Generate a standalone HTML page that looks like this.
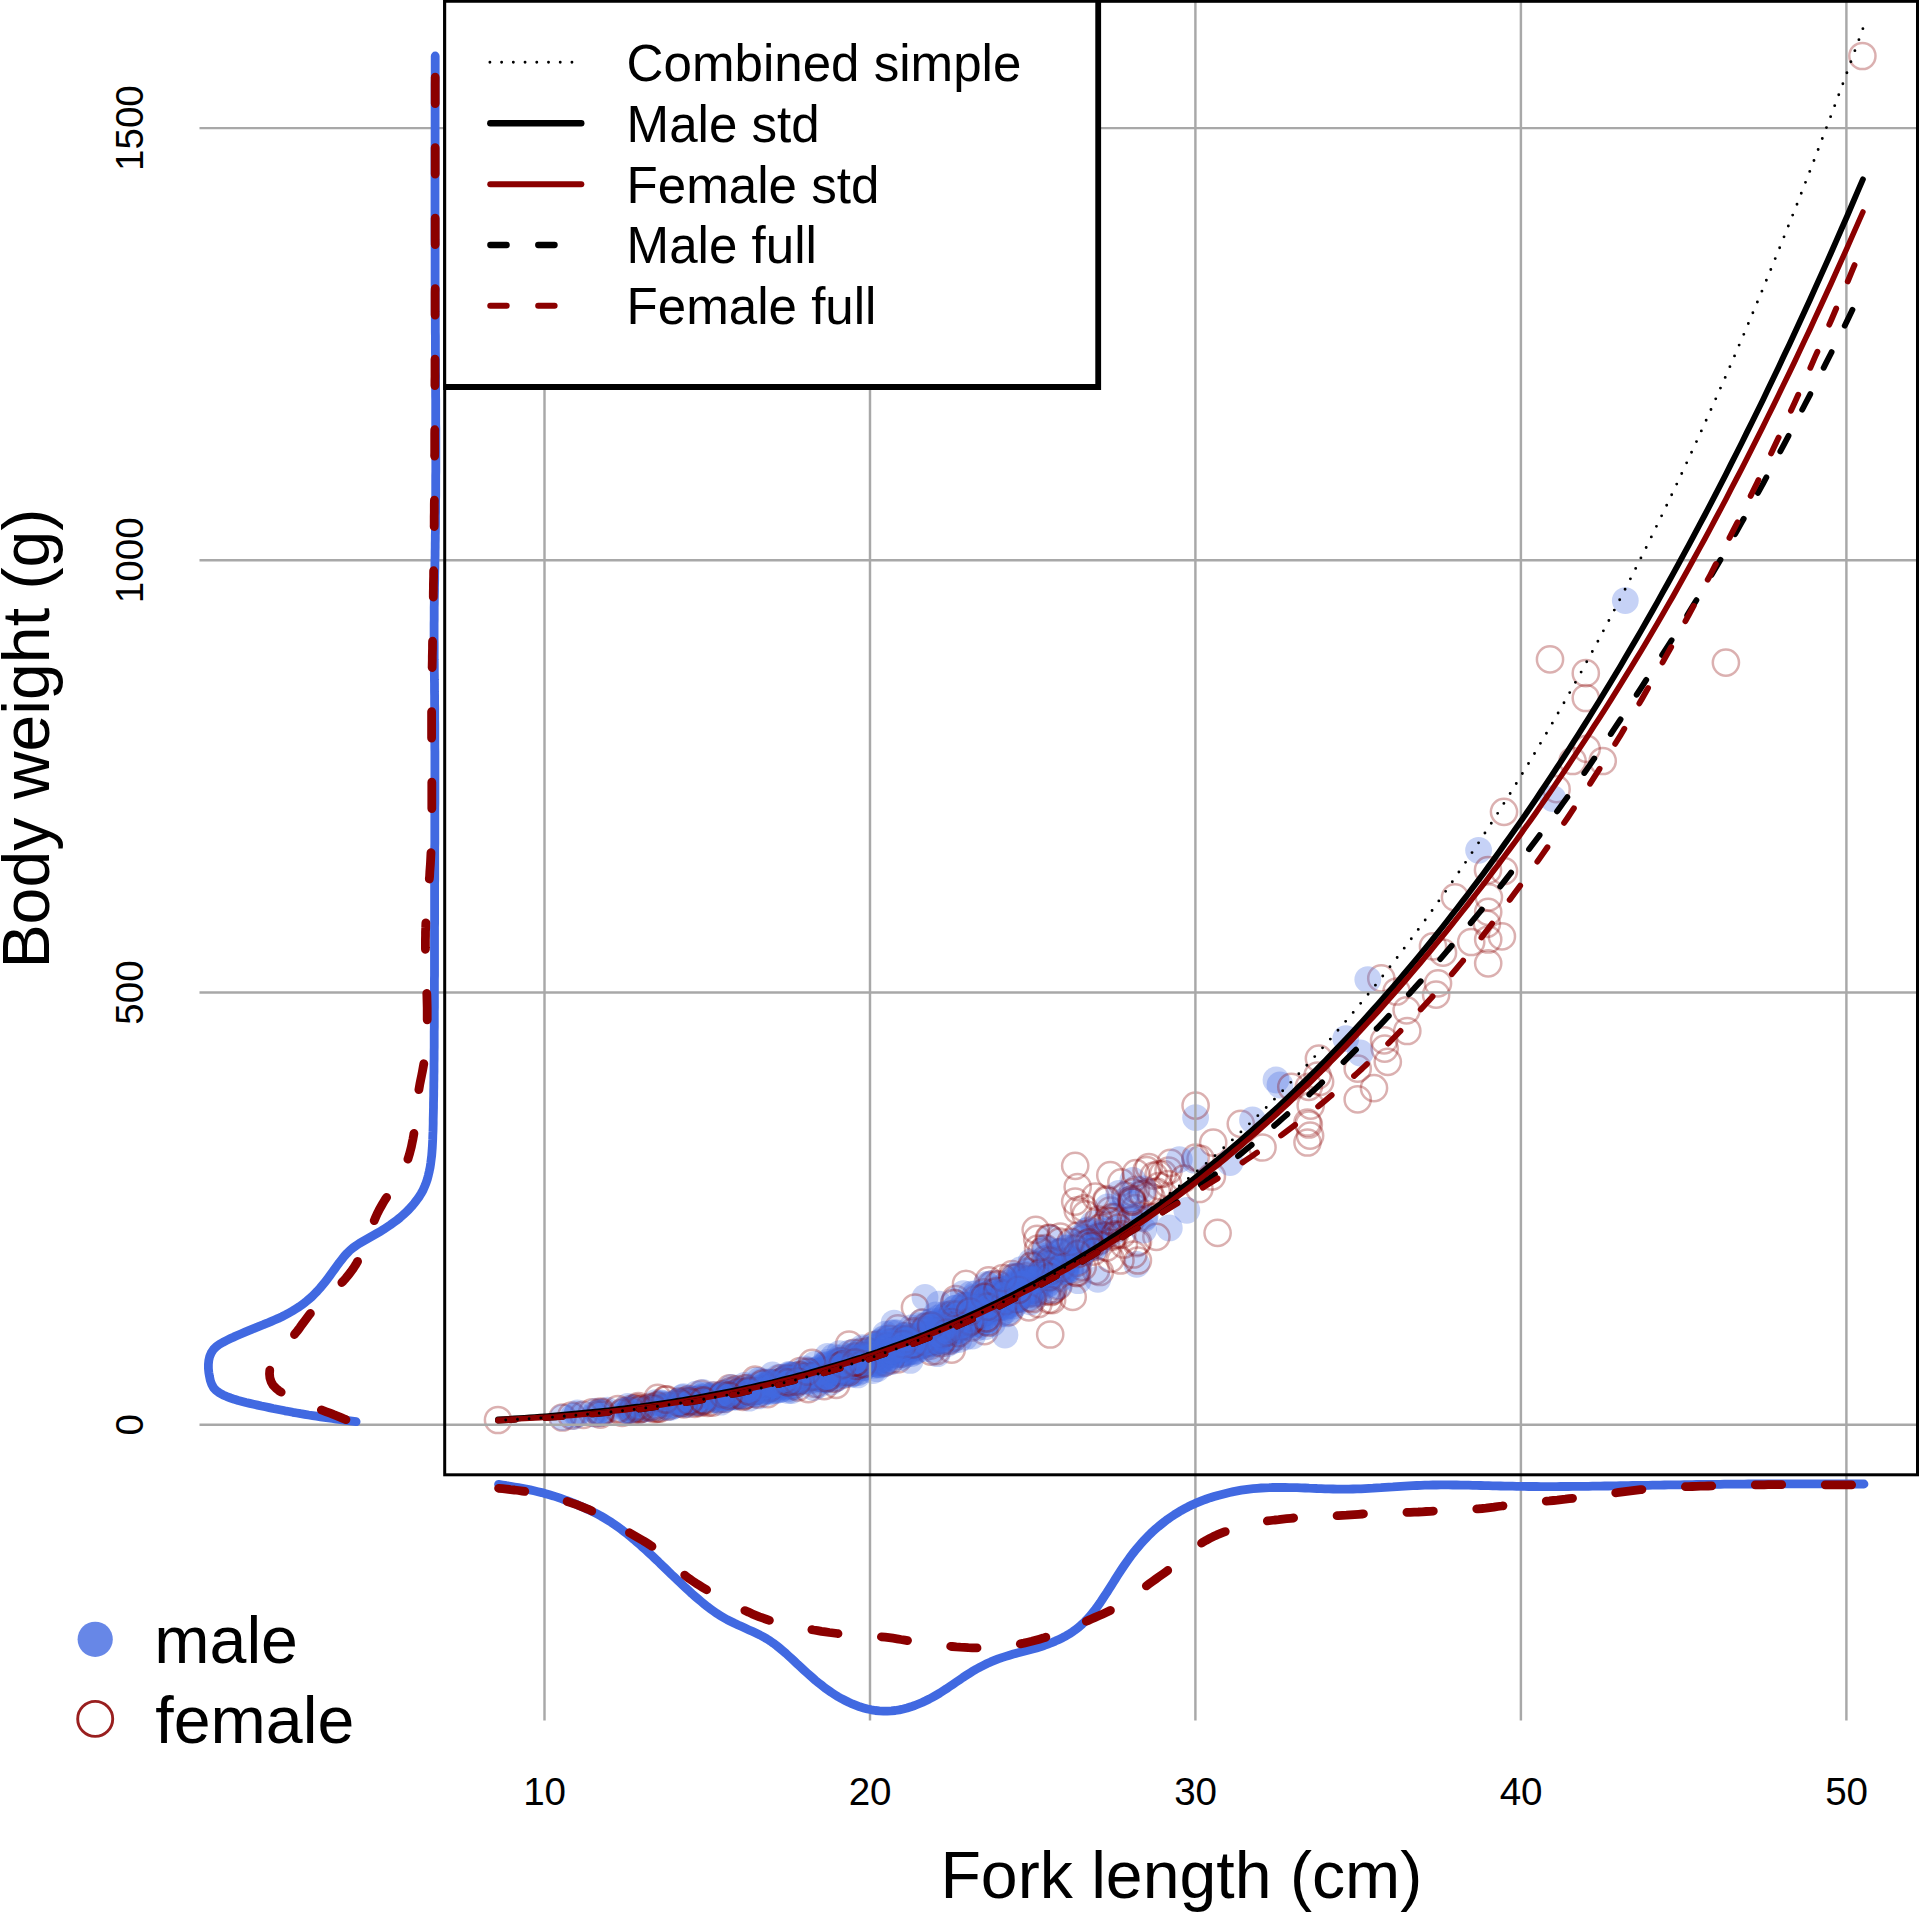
<!DOCTYPE html>
<html lang="en"><head><meta charset="utf-8"><title>Fork length vs body weight</title>
<style>html,body{margin:0;padding:0;background:#fff;overflow:hidden}svg{display:block}text{font-family:"Liberation Sans",sans-serif;fill:#000}.m{fill:rgb(65,105,225);fill-opacity:.3}.f{fill:none;stroke:rgb(139,0,0);stroke-opacity:.31;stroke-width:2.5}</style></head><body>
<svg width="1919" height="1914" viewBox="0 0 1919 1914">
<rect width="1919" height="1914" fill="#fff"/>
<g class="f"><circle cx="1170.5" cy="1162.8" r="13.1"/><circle cx="996.7" cy="1300.6" r="13.1"/><circle cx="1586.7" cy="748.8" r="13.1"/><circle cx="1095.9" cy="1270.7" r="13.1"/><circle cx="1211.9" cy="1176.5" r="13.1"/><circle cx="1041.2" cy="1252.0" r="13.1"/><circle cx="1099.9" cy="1272.0" r="13.1"/><circle cx="729.7" cy="1388.4" r="13.1"/><circle cx="991.3" cy="1284.9" r="13.1"/><circle cx="1046.4" cy="1279.0" r="13.1"/><circle cx="914.3" cy="1338.8" r="13.1"/><circle cx="498.0" cy="1420.0" r="13.1"/><circle cx="1060.5" cy="1252.8" r="13.1"/><circle cx="1019.3" cy="1277.1" r="13.1"/><circle cx="985.5" cy="1311.7" r="13.1"/><circle cx="797.1" cy="1380.3" r="13.1"/><circle cx="817.1" cy="1375.5" r="13.1"/><circle cx="1136.7" cy="1243.2" r="13.1"/><circle cx="801.6" cy="1375.5" r="13.1"/><circle cx="1043.9" cy="1274.7" r="13.1"/><circle cx="945.5" cy="1328.8" r="13.1"/><circle cx="846.1" cy="1370.5" r="13.1"/><circle cx="930.3" cy="1345.6" r="13.1"/><circle cx="850.5" cy="1358.6" r="13.1"/><circle cx="951.7" cy="1349.7" r="13.1"/><circle cx="1011.8" cy="1287.5" r="13.1"/><circle cx="1078.0" cy="1235.6" r="13.1"/><circle cx="1138.0" cy="1241.8" r="13.1"/><circle cx="876.9" cy="1347.9" r="13.1"/><circle cx="694.8" cy="1403.8" r="13.1"/><circle cx="843.0" cy="1374.5" r="13.1"/><circle cx="724.5" cy="1398.8" r="13.1"/><circle cx="767.7" cy="1394.2" r="13.1"/><circle cx="978.5" cy="1310.2" r="13.1"/><circle cx="1053.3" cy="1289.3" r="13.1"/><circle cx="1077.3" cy="1268.9" r="13.1"/><circle cx="1381.3" cy="978.4" r="13.1"/><circle cx="861.8" cy="1359.4" r="13.1"/><circle cx="1031.7" cy="1289.8" r="13.1"/><circle cx="713.5" cy="1395.5" r="13.1"/><circle cx="1082.2" cy="1252.4" r="13.1"/></g>
<g class="m"><circle cx="900.0" cy="1343.7" r="13.4"/><circle cx="886.6" cy="1347.2" r="13.4"/><circle cx="980.7" cy="1306.1" r="13.4"/><circle cx="827.8" cy="1370.5" r="13.4"/><circle cx="930.7" cy="1334.1" r="13.4"/><circle cx="823.4" cy="1378.3" r="13.4"/><circle cx="839.8" cy="1357.9" r="13.4"/><circle cx="1195.6" cy="1117.6" r="13.4"/><circle cx="1092.8" cy="1223.9" r="13.4"/><circle cx="1024.8" cy="1293.2" r="13.4"/><circle cx="751.2" cy="1390.2" r="13.4"/><circle cx="788.1" cy="1382.2" r="13.4"/><circle cx="857.7" cy="1372.7" r="13.4"/><circle cx="734.8" cy="1393.7" r="13.4"/><circle cx="864.6" cy="1357.3" r="13.4"/><circle cx="845.0" cy="1372.5" r="13.4"/><circle cx="1019.8" cy="1278.8" r="13.4"/><circle cx="647.3" cy="1407.5" r="13.4"/><circle cx="864.3" cy="1365.2" r="13.4"/><circle cx="815.7" cy="1379.4" r="13.4"/><circle cx="878.1" cy="1364.6" r="13.4"/><circle cx="680.5" cy="1402.7" r="13.4"/><circle cx="853.6" cy="1362.8" r="13.4"/><circle cx="644.8" cy="1409.1" r="13.4"/><circle cx="921.7" cy="1321.8" r="13.4"/><circle cx="1136.7" cy="1264.3" r="13.4"/><circle cx="897.2" cy="1332.9" r="13.4"/><circle cx="923.4" cy="1326.2" r="13.4"/><circle cx="934.8" cy="1338.7" r="13.4"/><circle cx="702.0" cy="1400.4" r="13.4"/><circle cx="950.8" cy="1340.2" r="13.4"/><circle cx="625.7" cy="1410.6" r="13.4"/><circle cx="862.2" cy="1355.9" r="13.4"/><circle cx="996.0" cy="1294.1" r="13.4"/><circle cx="772.4" cy="1387.2" r="13.4"/><circle cx="868.3" cy="1359.7" r="13.4"/><circle cx="958.4" cy="1328.8" r="13.4"/><circle cx="844.0" cy="1362.1" r="13.4"/><circle cx="851.5" cy="1359.7" r="13.4"/><circle cx="843.3" cy="1365.1" r="13.4"/><circle cx="874.5" cy="1354.4" r="13.4"/><circle cx="992.5" cy="1302.3" r="13.4"/><circle cx="731.4" cy="1387.5" r="13.4"/><circle cx="691.9" cy="1399.5" r="13.4"/><circle cx="1045.2" cy="1248.1" r="13.4"/><circle cx="746.6" cy="1389.9" r="13.4"/><circle cx="946.7" cy="1314.3" r="13.4"/><circle cx="873.5" cy="1345.8" r="13.4"/><circle cx="630.4" cy="1408.0" r="13.4"/><circle cx="912.8" cy="1336.4" r="13.4"/><circle cx="827.7" cy="1379.2" r="13.4"/><circle cx="854.8" cy="1358.1" r="13.4"/><circle cx="980.5" cy="1307.4" r="13.4"/><circle cx="960.3" cy="1331.4" r="13.4"/><circle cx="891.0" cy="1350.2" r="13.4"/><circle cx="851.0" cy="1374.4" r="13.4"/><circle cx="877.2" cy="1364.0" r="13.4"/><circle cx="884.3" cy="1349.4" r="13.4"/><circle cx="942.9" cy="1331.0" r="13.4"/><circle cx="924.6" cy="1339.5" r="13.4"/><circle cx="756.0" cy="1391.7" r="13.4"/><circle cx="877.1" cy="1368.7" r="13.4"/><circle cx="900.6" cy="1354.5" r="13.4"/><circle cx="932.5" cy="1349.2" r="13.4"/><circle cx="700.0" cy="1402.5" r="13.4"/><circle cx="740.6" cy="1393.5" r="13.4"/><circle cx="984.5" cy="1322.6" r="13.4"/><circle cx="1053.8" cy="1273.4" r="13.4"/><circle cx="889.6" cy="1357.5" r="13.4"/><circle cx="899.3" cy="1338.2" r="13.4"/><circle cx="963.8" cy="1319.4" r="13.4"/><circle cx="936.3" cy="1336.1" r="13.4"/><circle cx="900.2" cy="1338.2" r="13.4"/><circle cx="736.0" cy="1392.6" r="13.4"/><circle cx="900.9" cy="1338.4" r="13.4"/><circle cx="712.7" cy="1397.7" r="13.4"/><circle cx="863.0" cy="1367.5" r="13.4"/><circle cx="754.4" cy="1392.3" r="13.4"/><circle cx="931.6" cy="1341.9" r="13.4"/></g>
<g class="f"><circle cx="1262.5" cy="1147.5" r="13.1"/><circle cx="679.5" cy="1401.3" r="13.1"/><circle cx="984.4" cy="1331.1" r="13.1"/><circle cx="659.7" cy="1408.7" r="13.1"/><circle cx="815.3" cy="1383.8" r="13.1"/><circle cx="909.1" cy="1343.6" r="13.1"/><circle cx="743.9" cy="1391.8" r="13.1"/><circle cx="712.4" cy="1402.6" r="13.1"/><circle cx="836.3" cy="1372.4" r="13.1"/><circle cx="868.7" cy="1355.5" r="13.1"/><circle cx="1048.9" cy="1237.9" r="13.1"/><circle cx="1106.5" cy="1247.7" r="13.1"/><circle cx="1384.7" cy="1048.6" r="13.1"/><circle cx="889.4" cy="1353.6" r="13.1"/><circle cx="1217.6" cy="1232.9" r="13.1"/><circle cx="1407.3" cy="1031.0" r="13.1"/><circle cx="1120.4" cy="1260.5" r="13.1"/><circle cx="1027.6" cy="1271.9" r="13.1"/><circle cx="803.3" cy="1377.1" r="13.1"/><circle cx="1058.3" cy="1286.1" r="13.1"/><circle cx="897.9" cy="1359.4" r="13.1"/><circle cx="1038.4" cy="1304.1" r="13.1"/><circle cx="738.7" cy="1392.1" r="13.1"/><circle cx="836.2" cy="1384.8" r="13.1"/><circle cx="1115.5" cy="1217.2" r="13.1"/><circle cx="798.4" cy="1378.9" r="13.1"/><circle cx="988.7" cy="1280.3" r="13.1"/><circle cx="1099.9" cy="1240.3" r="13.1"/><circle cx="1121.4" cy="1182.4" r="13.1"/><circle cx="1028.5" cy="1298.0" r="13.1"/><circle cx="698.4" cy="1400.0" r="13.1"/><circle cx="1136.0" cy="1189.9" r="13.1"/><circle cx="633.6" cy="1408.3" r="13.1"/><circle cx="955.1" cy="1330.4" r="13.1"/><circle cx="701.3" cy="1393.8" r="13.1"/><circle cx="1125.4" cy="1195.3" r="13.1"/><circle cx="1049.2" cy="1265.3" r="13.1"/><circle cx="1052.4" cy="1291.0" r="13.1"/><circle cx="904.6" cy="1336.4" r="13.1"/><circle cx="925.6" cy="1337.2" r="13.1"/><circle cx="933.4" cy="1327.6" r="13.1"/></g>
<g class="m"><circle cx="1066.7" cy="1272.1" r="13.4"/><circle cx="988.5" cy="1285.2" r="13.4"/><circle cx="802.4" cy="1377.7" r="13.4"/><circle cx="658.9" cy="1404.2" r="13.4"/><circle cx="985.1" cy="1326.8" r="13.4"/><circle cx="1033.4" cy="1293.1" r="13.4"/><circle cx="896.1" cy="1350.6" r="13.4"/><circle cx="1039.6" cy="1293.8" r="13.4"/><circle cx="855.4" cy="1360.8" r="13.4"/><circle cx="1015.3" cy="1303.3" r="13.4"/><circle cx="984.9" cy="1300.8" r="13.4"/><circle cx="816.3" cy="1381.3" r="13.4"/><circle cx="829.5" cy="1372.1" r="13.4"/><circle cx="898.0" cy="1346.3" r="13.4"/><circle cx="859.5" cy="1365.8" r="13.4"/><circle cx="856.7" cy="1360.6" r="13.4"/><circle cx="938.1" cy="1324.4" r="13.4"/><circle cx="634.3" cy="1408.5" r="13.4"/><circle cx="765.8" cy="1386.8" r="13.4"/><circle cx="735.8" cy="1396.8" r="13.4"/><circle cx="866.0" cy="1357.3" r="13.4"/><circle cx="973.4" cy="1308.9" r="13.4"/><circle cx="788.0" cy="1388.8" r="13.4"/><circle cx="926.9" cy="1343.0" r="13.4"/><circle cx="909.6" cy="1344.1" r="13.4"/><circle cx="1025.9" cy="1292.5" r="13.4"/><circle cx="955.0" cy="1329.5" r="13.4"/><circle cx="1032.5" cy="1263.6" r="13.4"/><circle cx="825.8" cy="1369.3" r="13.4"/><circle cx="1097.8" cy="1279.3" r="13.4"/><circle cx="576.8" cy="1414.4" r="13.4"/><circle cx="1027.1" cy="1281.6" r="13.4"/><circle cx="688.5" cy="1401.1" r="13.4"/><circle cx="1005.0" cy="1335.0" r="13.4"/><circle cx="1076.2" cy="1267.3" r="13.4"/><circle cx="967.6" cy="1324.9" r="13.4"/><circle cx="936.7" cy="1334.5" r="13.4"/><circle cx="783.7" cy="1382.4" r="13.4"/><circle cx="999.5" cy="1308.6" r="13.4"/><circle cx="1007.2" cy="1296.3" r="13.4"/><circle cx="728.6" cy="1397.5" r="13.4"/><circle cx="779.8" cy="1384.5" r="13.4"/><circle cx="846.2" cy="1363.0" r="13.4"/><circle cx="979.0" cy="1311.5" r="13.4"/><circle cx="845.2" cy="1363.3" r="13.4"/><circle cx="806.1" cy="1380.7" r="13.4"/><circle cx="957.6" cy="1311.6" r="13.4"/><circle cx="1048.8" cy="1276.3" r="13.4"/><circle cx="1007.2" cy="1283.2" r="13.4"/><circle cx="775.6" cy="1390.7" r="13.4"/><circle cx="845.2" cy="1371.9" r="13.4"/><circle cx="782.0" cy="1380.6" r="13.4"/><circle cx="863.8" cy="1361.6" r="13.4"/><circle cx="1056.0" cy="1271.1" r="13.4"/><circle cx="1145.2" cy="1216.4" r="13.4"/><circle cx="1018.7" cy="1293.6" r="13.4"/><circle cx="699.1" cy="1398.4" r="13.4"/><circle cx="694.4" cy="1402.0" r="13.4"/><circle cx="1113.7" cy="1228.8" r="13.4"/><circle cx="998.5" cy="1307.9" r="13.4"/><circle cx="1096.8" cy="1237.0" r="13.4"/><circle cx="852.9" cy="1352.5" r="13.4"/><circle cx="935.7" cy="1325.9" r="13.4"/><circle cx="1048.7" cy="1271.5" r="13.4"/><circle cx="769.6" cy="1390.1" r="13.4"/><circle cx="828.4" cy="1364.9" r="13.4"/><circle cx="906.2" cy="1352.8" r="13.4"/><circle cx="885.4" cy="1334.2" r="13.4"/><circle cx="980.4" cy="1310.3" r="13.4"/><circle cx="668.0" cy="1404.0" r="13.4"/><circle cx="703.0" cy="1395.4" r="13.4"/><circle cx="722.4" cy="1395.5" r="13.4"/><circle cx="1008.0" cy="1305.5" r="13.4"/><circle cx="870.3" cy="1352.4" r="13.4"/><circle cx="774.3" cy="1388.5" r="13.4"/><circle cx="728.4" cy="1394.1" r="13.4"/><circle cx="979.9" cy="1324.4" r="13.4"/><circle cx="928.5" cy="1343.5" r="13.4"/><circle cx="732.1" cy="1396.0" r="13.4"/></g>
<g class="f"><circle cx="1307.5" cy="1122.5" r="13.1"/><circle cx="998.2" cy="1301.8" r="13.1"/><circle cx="562.5" cy="1417.5" r="13.1"/><circle cx="953.7" cy="1337.5" r="13.1"/><circle cx="1556.6" cy="789.2" r="13.1"/><circle cx="1061.0" cy="1252.1" r="13.1"/><circle cx="1110.1" cy="1210.5" r="13.1"/><circle cx="864.8" cy="1355.2" r="13.1"/><circle cx="984.3" cy="1292.3" r="13.1"/><circle cx="679.6" cy="1402.0" r="13.1"/><circle cx="822.0" cy="1373.8" r="13.1"/><circle cx="922.9" cy="1344.4" r="13.1"/><circle cx="778.1" cy="1383.4" r="13.1"/><circle cx="934.0" cy="1336.8" r="13.1"/><circle cx="892.4" cy="1342.0" r="13.1"/><circle cx="884.4" cy="1353.3" r="13.1"/><circle cx="819.3" cy="1377.7" r="13.1"/><circle cx="1149.2" cy="1191.5" r="13.1"/><circle cx="600.9" cy="1412.5" r="13.1"/><circle cx="1046.6" cy="1264.8" r="13.1"/><circle cx="719.2" cy="1399.0" r="13.1"/><circle cx="1106.1" cy="1235.7" r="13.1"/><circle cx="901.6" cy="1353.3" r="13.1"/><circle cx="853.3" cy="1360.8" r="13.1"/><circle cx="1357.7" cy="1068.7" r="13.1"/><circle cx="657.3" cy="1408.9" r="13.1"/><circle cx="824.2" cy="1386.2" r="13.1"/><circle cx="1396.6" cy="991.5" r="13.1"/><circle cx="736.6" cy="1389.3" r="13.1"/><circle cx="1085.6" cy="1214.4" r="13.1"/><circle cx="806.4" cy="1376.5" r="13.1"/><circle cx="1320.1" cy="1081.8" r="13.1"/><circle cx="770.0" cy="1385.3" r="13.1"/><circle cx="1106.6" cy="1199.1" r="13.1"/><circle cx="849.1" cy="1344.5" r="13.1"/><circle cx="1387.8" cy="1061.8" r="13.1"/><circle cx="1307.5" cy="1142.5" r="13.1"/><circle cx="854.2" cy="1352.9" r="13.1"/><circle cx="803.0" cy="1377.9" r="13.1"/><circle cx="916.8" cy="1340.6" r="13.1"/><circle cx="1050.2" cy="1334.5" r="13.1"/></g>
<g class="m"><circle cx="1060.5" cy="1278.5" r="13.4"/><circle cx="1034.8" cy="1278.3" r="13.4"/><circle cx="1088.6" cy="1229.6" r="13.4"/><circle cx="976.7" cy="1316.2" r="13.4"/><circle cx="904.4" cy="1355.2" r="13.4"/><circle cx="964.6" cy="1319.5" r="13.4"/><circle cx="798.3" cy="1381.2" r="13.4"/><circle cx="878.1" cy="1351.9" r="13.4"/><circle cx="931.7" cy="1330.5" r="13.4"/><circle cx="895.5" cy="1353.4" r="13.4"/><circle cx="670.8" cy="1407.3" r="13.4"/><circle cx="851.3" cy="1372.9" r="13.4"/><circle cx="629.3" cy="1410.0" r="13.4"/><circle cx="749.0" cy="1398.2" r="13.4"/><circle cx="835.6" cy="1379.1" r="13.4"/><circle cx="1004.5" cy="1292.4" r="13.4"/><circle cx="908.9" cy="1352.2" r="13.4"/><circle cx="977.7" cy="1327.4" r="13.4"/><circle cx="788.3" cy="1384.3" r="13.4"/><circle cx="925.0" cy="1297.5" r="13.4"/><circle cx="738.3" cy="1395.9" r="13.4"/><circle cx="838.0" cy="1360.3" r="13.4"/><circle cx="980.2" cy="1313.1" r="13.4"/><circle cx="873.0" cy="1357.5" r="13.4"/><circle cx="988.4" cy="1320.1" r="13.4"/><circle cx="905.7" cy="1341.3" r="13.4"/><circle cx="953.3" cy="1331.6" r="13.4"/><circle cx="683.4" cy="1400.8" r="13.4"/><circle cx="683.5" cy="1396.6" r="13.4"/><circle cx="853.3" cy="1373.6" r="13.4"/><circle cx="823.0" cy="1379.8" r="13.4"/><circle cx="872.0" cy="1363.6" r="13.4"/><circle cx="808.3" cy="1370.9" r="13.4"/><circle cx="943.8" cy="1321.7" r="13.4"/><circle cx="885.4" cy="1341.2" r="13.4"/><circle cx="1065.5" cy="1262.7" r="13.4"/><circle cx="876.3" cy="1359.4" r="13.4"/><circle cx="883.2" cy="1364.2" r="13.4"/><circle cx="1107.5" cy="1207.0" r="13.4"/><circle cx="725.9" cy="1395.7" r="13.4"/><circle cx="941.0" cy="1328.0" r="13.4"/><circle cx="761.5" cy="1388.7" r="13.4"/><circle cx="766.9" cy="1381.9" r="13.4"/><circle cx="844.4" cy="1363.1" r="13.4"/><circle cx="914.1" cy="1348.6" r="13.4"/><circle cx="910.2" cy="1360.4" r="13.4"/><circle cx="973.2" cy="1324.4" r="13.4"/><circle cx="847.5" cy="1367.0" r="13.4"/><circle cx="882.1" cy="1357.4" r="13.4"/><circle cx="756.3" cy="1380.5" r="13.4"/><circle cx="984.0" cy="1297.1" r="13.4"/><circle cx="960.3" cy="1324.2" r="13.4"/><circle cx="1125.4" cy="1200.3" r="13.4"/><circle cx="999.2" cy="1303.5" r="13.4"/><circle cx="960.4" cy="1322.3" r="13.4"/><circle cx="1060.4" cy="1251.2" r="13.4"/><circle cx="1094.9" cy="1246.2" r="13.4"/><circle cx="853.3" cy="1356.7" r="13.4"/><circle cx="923.9" cy="1334.6" r="13.4"/><circle cx="934.8" cy="1341.0" r="13.4"/><circle cx="955.5" cy="1308.1" r="13.4"/><circle cx="1069.4" cy="1269.8" r="13.4"/><circle cx="925.3" cy="1336.5" r="13.4"/><circle cx="970.0" cy="1306.9" r="13.4"/><circle cx="1020.7" cy="1282.3" r="13.4"/><circle cx="951.7" cy="1341.3" r="13.4"/><circle cx="816.3" cy="1370.1" r="13.4"/><circle cx="862.6" cy="1362.9" r="13.4"/><circle cx="858.6" cy="1362.4" r="13.4"/><circle cx="975.7" cy="1293.7" r="13.4"/><circle cx="802.4" cy="1381.3" r="13.4"/><circle cx="1114.9" cy="1214.6" r="13.4"/><circle cx="953.6" cy="1301.3" r="13.4"/><circle cx="935.5" cy="1329.4" r="13.4"/><circle cx="953.8" cy="1318.6" r="13.4"/><circle cx="935.6" cy="1337.0" r="13.4"/><circle cx="946.4" cy="1315.1" r="13.4"/><circle cx="905.8" cy="1335.4" r="13.4"/></g>
<g class="f"><circle cx="1050.9" cy="1292.0" r="13.1"/><circle cx="1037.2" cy="1238.9" r="13.1"/><circle cx="1046.4" cy="1291.1" r="13.1"/><circle cx="1488.9" cy="897.3" r="13.1"/><circle cx="1471.2" cy="942.0" r="13.1"/><circle cx="944.4" cy="1328.2" r="13.1"/><circle cx="1862.4" cy="56.0" r="13.1"/><circle cx="1112.3" cy="1221.1" r="13.1"/><circle cx="689.1" cy="1399.2" r="13.1"/><circle cx="1240.8" cy="1123.8" r="13.1"/><circle cx="1488.2" cy="911.9" r="13.1"/><circle cx="955.7" cy="1299.0" r="13.1"/><circle cx="1082.7" cy="1267.0" r="13.1"/><circle cx="1308.8" cy="1086.8" r="13.1"/><circle cx="971.1" cy="1327.5" r="13.1"/><circle cx="1045.1" cy="1248.0" r="13.1"/><circle cx="1163.1" cy="1173.8" r="13.1"/><circle cx="667.8" cy="1406.3" r="13.1"/><circle cx="1585.8" cy="673.2" r="13.1"/><circle cx="810.4" cy="1377.1" r="13.1"/><circle cx="841.0" cy="1362.1" r="13.1"/><circle cx="845.6" cy="1371.5" r="13.1"/><circle cx="769.9" cy="1387.4" r="13.1"/><circle cx="686.3" cy="1400.6" r="13.1"/><circle cx="915.0" cy="1307.5" r="13.1"/><circle cx="1058.3" cy="1268.3" r="13.1"/><circle cx="1572.6" cy="761.0" r="13.1"/><circle cx="771.0" cy="1383.2" r="13.1"/><circle cx="592.2" cy="1412.3" r="13.1"/><circle cx="1057.1" cy="1260.5" r="13.1"/><circle cx="793.7" cy="1385.1" r="13.1"/><circle cx="976.1" cy="1299.1" r="13.1"/><circle cx="804.8" cy="1377.1" r="13.1"/><circle cx="1438.0" cy="983.4" r="13.1"/><circle cx="735.5" cy="1395.0" r="13.1"/><circle cx="1143.2" cy="1194.0" r="13.1"/><circle cx="1037.8" cy="1277.4" r="13.1"/><circle cx="1095.3" cy="1196.6" r="13.1"/><circle cx="1033.3" cy="1289.3" r="13.1"/><circle cx="637.0" cy="1407.7" r="13.1"/><circle cx="935.7" cy="1333.5" r="13.1"/></g>
<g class="m"><circle cx="845.0" cy="1368.8" r="13.4"/><circle cx="814.7" cy="1364.4" r="13.4"/><circle cx="814.3" cy="1377.4" r="13.4"/><circle cx="1048.5" cy="1265.0" r="13.4"/><circle cx="972.9" cy="1311.6" r="13.4"/><circle cx="918.5" cy="1347.3" r="13.4"/><circle cx="680.3" cy="1403.0" r="13.4"/><circle cx="943.8" cy="1337.7" r="13.4"/><circle cx="955.1" cy="1325.6" r="13.4"/><circle cx="883.2" cy="1358.0" r="13.4"/><circle cx="725.2" cy="1392.1" r="13.4"/><circle cx="781.2" cy="1381.8" r="13.4"/><circle cx="783.0" cy="1386.6" r="13.4"/><circle cx="974.4" cy="1313.4" r="13.4"/><circle cx="901.0" cy="1354.4" r="13.4"/><circle cx="792.3" cy="1387.0" r="13.4"/><circle cx="986.6" cy="1302.6" r="13.4"/><circle cx="775.1" cy="1382.3" r="13.4"/><circle cx="691.9" cy="1401.3" r="13.4"/><circle cx="788.0" cy="1385.8" r="13.4"/><circle cx="863.5" cy="1367.8" r="13.4"/><circle cx="1026.0" cy="1283.5" r="13.4"/><circle cx="772.5" cy="1374.9" r="13.4"/><circle cx="880.0" cy="1342.1" r="13.4"/><circle cx="1046.1" cy="1278.6" r="13.4"/><circle cx="718.9" cy="1397.1" r="13.4"/><circle cx="911.6" cy="1353.6" r="13.4"/><circle cx="972.4" cy="1336.0" r="13.4"/><circle cx="878.3" cy="1343.1" r="13.4"/><circle cx="1017.9" cy="1276.1" r="13.4"/><circle cx="921.7" cy="1345.3" r="13.4"/><circle cx="847.9" cy="1368.9" r="13.4"/><circle cx="1069.5" cy="1257.9" r="13.4"/><circle cx="968.4" cy="1317.2" r="13.4"/><circle cx="981.7" cy="1313.9" r="13.4"/><circle cx="1625.3" cy="600.6" r="13.4"/><circle cx="1132.9" cy="1180.3" r="13.4"/><circle cx="1252.5" cy="1120.0" r="13.4"/><circle cx="1023.8" cy="1295.0" r="13.4"/><circle cx="930.5" cy="1340.2" r="13.4"/><circle cx="907.9" cy="1340.6" r="13.4"/><circle cx="819.7" cy="1368.5" r="13.4"/><circle cx="837.2" cy="1378.1" r="13.4"/><circle cx="952.2" cy="1332.1" r="13.4"/><circle cx="1004.7" cy="1288.8" r="13.4"/><circle cx="1080.5" cy="1239.4" r="13.4"/><circle cx="768.1" cy="1392.1" r="13.4"/><circle cx="907.1" cy="1337.7" r="13.4"/><circle cx="713.6" cy="1394.6" r="13.4"/><circle cx="1058.8" cy="1285.8" r="13.4"/><circle cx="1018.3" cy="1279.4" r="13.4"/><circle cx="701.1" cy="1397.1" r="13.4"/><circle cx="836.1" cy="1367.5" r="13.4"/><circle cx="974.2" cy="1302.4" r="13.4"/><circle cx="712.4" cy="1396.8" r="13.4"/><circle cx="944.6" cy="1314.2" r="13.4"/><circle cx="920.9" cy="1333.6" r="13.4"/><circle cx="654.8" cy="1407.5" r="13.4"/><circle cx="970.9" cy="1309.5" r="13.4"/><circle cx="860.6" cy="1371.1" r="13.4"/><circle cx="972.1" cy="1308.8" r="13.4"/><circle cx="689.5" cy="1399.8" r="13.4"/><circle cx="764.7" cy="1390.7" r="13.4"/><circle cx="775.6" cy="1390.0" r="13.4"/><circle cx="969.2" cy="1317.0" r="13.4"/><circle cx="779.6" cy="1389.7" r="13.4"/><circle cx="705.0" cy="1399.4" r="13.4"/><circle cx="822.2" cy="1378.8" r="13.4"/><circle cx="911.9" cy="1351.3" r="13.4"/><circle cx="965.2" cy="1322.7" r="13.4"/><circle cx="739.3" cy="1394.0" r="13.4"/><circle cx="998.6" cy="1307.0" r="13.4"/><circle cx="902.2" cy="1352.1" r="13.4"/><circle cx="691.5" cy="1399.7" r="13.4"/><circle cx="1026.1" cy="1278.4" r="13.4"/><circle cx="896.2" cy="1345.3" r="13.4"/><circle cx="1098.8" cy="1234.5" r="13.4"/><circle cx="601.1" cy="1413.3" r="13.4"/></g>
<g class="f"><circle cx="838.6" cy="1372.0" r="13.1"/><circle cx="1077.0" cy="1273.1" r="13.1"/><circle cx="1028.5" cy="1279.3" r="13.1"/><circle cx="889.2" cy="1338.9" r="13.1"/><circle cx="699.9" cy="1402.5" r="13.1"/><circle cx="923.9" cy="1330.7" r="13.1"/><circle cx="1384.1" cy="1040.4" r="13.1"/><circle cx="751.0" cy="1391.0" r="13.1"/><circle cx="1015.5" cy="1277.3" r="13.1"/><circle cx="922.4" cy="1322.6" r="13.1"/><circle cx="624.0" cy="1411.1" r="13.1"/><circle cx="1036.5" cy="1265.9" r="13.1"/><circle cx="861.1" cy="1352.3" r="13.1"/><circle cx="897.9" cy="1328.3" r="13.1"/><circle cx="874.3" cy="1345.1" r="13.1"/><circle cx="707.7" cy="1402.8" r="13.1"/><circle cx="1100.1" cy="1227.9" r="13.1"/><circle cx="1113.0" cy="1236.5" r="13.1"/><circle cx="1504.0" cy="871.0" r="13.1"/><circle cx="1045.4" cy="1259.5" r="13.1"/><circle cx="1077.7" cy="1210.3" r="13.1"/><circle cx="738.3" cy="1393.1" r="13.1"/><circle cx="1200.6" cy="1158.9" r="13.1"/><circle cx="899.6" cy="1345.1" r="13.1"/><circle cx="1310.1" cy="1135.7" r="13.1"/><circle cx="886.6" cy="1346.4" r="13.1"/><circle cx="1123.9" cy="1244.5" r="13.1"/><circle cx="1099.9" cy="1236.8" r="13.1"/><circle cx="1083.6" cy="1237.9" r="13.1"/><circle cx="1074.8" cy="1248.4" r="13.1"/><circle cx="1135.4" cy="1208.1" r="13.1"/><circle cx="936.5" cy="1351.2" r="13.1"/><circle cx="1076.3" cy="1249.0" r="13.1"/><circle cx="1308.8" cy="1124.5" r="13.1"/><circle cx="1132.7" cy="1192.3" r="13.1"/><circle cx="935.2" cy="1338.2" r="13.1"/><circle cx="905.5" cy="1346.2" r="13.1"/><circle cx="967.0" cy="1306.3" r="13.1"/><circle cx="1103.9" cy="1235.7" r="13.1"/><circle cx="1357.7" cy="1099.4" r="13.1"/><circle cx="1168.6" cy="1170.5" r="13.1"/></g>
<g class="m"><circle cx="816.2" cy="1377.9" r="13.4"/><circle cx="800.5" cy="1381.1" r="13.4"/><circle cx="870.1" cy="1358.5" r="13.4"/><circle cx="941.2" cy="1329.4" r="13.4"/><circle cx="775.6" cy="1385.3" r="13.4"/><circle cx="935.4" cy="1341.6" r="13.4"/><circle cx="702.8" cy="1392.3" r="13.4"/><circle cx="882.5" cy="1355.8" r="13.4"/><circle cx="918.5" cy="1342.3" r="13.4"/><circle cx="826.1" cy="1373.6" r="13.4"/><circle cx="1014.6" cy="1297.3" r="13.4"/><circle cx="824.3" cy="1369.1" r="13.4"/><circle cx="818.5" cy="1376.7" r="13.4"/><circle cx="1036.6" cy="1287.9" r="13.4"/><circle cx="974.2" cy="1296.8" r="13.4"/><circle cx="994.8" cy="1294.9" r="13.4"/><circle cx="893.2" cy="1350.1" r="13.4"/><circle cx="815.6" cy="1374.3" r="13.4"/><circle cx="607.5" cy="1410.2" r="13.4"/><circle cx="800.4" cy="1373.5" r="13.4"/><circle cx="989.9" cy="1303.3" r="13.4"/><circle cx="718.5" cy="1400.2" r="13.4"/><circle cx="1010.5" cy="1295.7" r="13.4"/><circle cx="942.1" cy="1332.2" r="13.4"/><circle cx="1552.8" cy="798.6" r="13.4"/><circle cx="814.2" cy="1374.3" r="13.4"/><circle cx="842.3" cy="1363.0" r="13.4"/><circle cx="983.4" cy="1297.6" r="13.4"/><circle cx="1037.6" cy="1281.0" r="13.4"/><circle cx="1014.2" cy="1299.0" r="13.4"/><circle cx="848.9" cy="1353.1" r="13.4"/><circle cx="964.0" cy="1319.7" r="13.4"/><circle cx="674.2" cy="1405.5" r="13.4"/><circle cx="883.1" cy="1352.7" r="13.4"/><circle cx="915.9" cy="1346.8" r="13.4"/><circle cx="725.2" cy="1397.8" r="13.4"/><circle cx="811.5" cy="1376.4" r="13.4"/><circle cx="1095.8" cy="1247.5" r="13.4"/><circle cx="1000.7" cy="1297.8" r="13.4"/><circle cx="823.4" cy="1376.9" r="13.4"/><circle cx="933.0" cy="1331.4" r="13.4"/><circle cx="920.7" cy="1336.2" r="13.4"/><circle cx="1048.2" cy="1283.2" r="13.4"/><circle cx="667.9" cy="1407.4" r="13.4"/><circle cx="857.8" cy="1374.9" r="13.4"/><circle cx="816.3" cy="1374.0" r="13.4"/><circle cx="701.8" cy="1398.7" r="13.4"/><circle cx="639.8" cy="1410.5" r="13.4"/><circle cx="770.9" cy="1386.3" r="13.4"/><circle cx="949.2" cy="1318.4" r="13.4"/><circle cx="883.9" cy="1338.7" r="13.4"/><circle cx="746.9" cy="1387.1" r="13.4"/><circle cx="883.0" cy="1343.2" r="13.4"/><circle cx="1056.8" cy="1251.7" r="13.4"/><circle cx="935.0" cy="1343.0" r="13.4"/><circle cx="1169.3" cy="1227.9" r="13.4"/><circle cx="716.7" cy="1396.4" r="13.4"/><circle cx="1008.2" cy="1285.5" r="13.4"/><circle cx="1108.1" cy="1230.3" r="13.4"/><circle cx="870.4" cy="1355.4" r="13.4"/><circle cx="1478.6" cy="850.3" r="13.4"/><circle cx="857.5" cy="1362.2" r="13.4"/><circle cx="1280.0" cy="1085.0" r="13.4"/><circle cx="1128.8" cy="1217.0" r="13.4"/><circle cx="806.7" cy="1377.4" r="13.4"/><circle cx="811.4" cy="1370.9" r="13.4"/><circle cx="628.8" cy="1411.1" r="13.4"/><circle cx="1098.7" cy="1242.4" r="13.4"/><circle cx="882.7" cy="1360.1" r="13.4"/><circle cx="746.6" cy="1395.6" r="13.4"/><circle cx="761.6" cy="1381.8" r="13.4"/><circle cx="933.1" cy="1338.3" r="13.4"/><circle cx="1045.0" cy="1262.3" r="13.4"/><circle cx="605.0" cy="1411.3" r="13.4"/><circle cx="682.6" cy="1397.6" r="13.4"/><circle cx="1065.3" cy="1271.3" r="13.4"/><circle cx="791.7" cy="1390.6" r="13.4"/><circle cx="1186.8" cy="1210.3" r="13.4"/></g>
<g class="f"><circle cx="931.0" cy="1351.7" r="13.1"/><circle cx="1585.8" cy="698.0" r="13.1"/><circle cx="840.8" cy="1361.1" r="13.1"/><circle cx="992.4" cy="1292.5" r="13.1"/><circle cx="940.1" cy="1331.1" r="13.1"/><circle cx="755.3" cy="1379.6" r="13.1"/><circle cx="1213.2" cy="1142.6" r="13.1"/><circle cx="1034.2" cy="1293.3" r="13.1"/><circle cx="890.3" cy="1360.0" r="13.1"/><circle cx="653.0" cy="1407.5" r="13.1"/><circle cx="797.8" cy="1387.3" r="13.1"/><circle cx="1156.4" cy="1236.8" r="13.1"/><circle cx="1060.2" cy="1236.7" r="13.1"/><circle cx="926.3" cy="1326.7" r="13.1"/><circle cx="1075.2" cy="1201.6" r="13.1"/><circle cx="755.6" cy="1391.2" r="13.1"/><circle cx="1153.9" cy="1175.6" r="13.1"/><circle cx="1086.5" cy="1243.5" r="13.1"/><circle cx="649.7" cy="1407.1" r="13.1"/><circle cx="583.5" cy="1414.9" r="13.1"/><circle cx="1141.8" cy="1194.2" r="13.1"/><circle cx="794.5" cy="1380.9" r="13.1"/><circle cx="848.4" cy="1372.0" r="13.1"/><circle cx="1008.8" cy="1312.2" r="13.1"/><circle cx="1081.5" cy="1245.0" r="13.1"/><circle cx="1310.7" cy="1105.6" r="13.1"/><circle cx="638.4" cy="1406.1" r="13.1"/><circle cx="884.9" cy="1362.3" r="13.1"/><circle cx="1158.9" cy="1186.1" r="13.1"/><circle cx="928.9" cy="1343.1" r="13.1"/><circle cx="737.8" cy="1391.8" r="13.1"/><circle cx="800.3" cy="1371.0" r="13.1"/><circle cx="939.1" cy="1330.5" r="13.1"/><circle cx="948.4" cy="1340.8" r="13.1"/><circle cx="1602.7" cy="761.0" r="13.1"/><circle cx="966.0" cy="1283.8" r="13.1"/><circle cx="985.2" cy="1305.6" r="13.1"/><circle cx="1112.8" cy="1217.2" r="13.1"/><circle cx="695.8" cy="1402.3" r="13.1"/><circle cx="1199.4" cy="1189.0" r="13.1"/></g>
<g class="m"><circle cx="844.6" cy="1362.8" r="13.4"/><circle cx="831.0" cy="1382.0" r="13.4"/><circle cx="863.3" cy="1364.7" r="13.4"/><circle cx="918.5" cy="1340.9" r="13.4"/><circle cx="660.0" cy="1402.7" r="13.4"/><circle cx="747.0" cy="1392.4" r="13.4"/><circle cx="860.0" cy="1366.2" r="13.4"/><circle cx="868.5" cy="1363.2" r="13.4"/><circle cx="759.3" cy="1380.7" r="13.4"/><circle cx="687.5" cy="1404.5" r="13.4"/><circle cx="1012.9" cy="1295.9" r="13.4"/><circle cx="1029.4" cy="1291.4" r="13.4"/><circle cx="822.7" cy="1378.6" r="13.4"/><circle cx="1037.7" cy="1292.2" r="13.4"/><circle cx="709.7" cy="1400.8" r="13.4"/><circle cx="827.4" cy="1366.5" r="13.4"/><circle cx="874.3" cy="1363.2" r="13.4"/><circle cx="951.6" cy="1315.5" r="13.4"/><circle cx="883.8" cy="1363.0" r="13.4"/><circle cx="714.6" cy="1399.6" r="13.4"/><circle cx="865.1" cy="1362.0" r="13.4"/><circle cx="956.1" cy="1327.6" r="13.4"/><circle cx="972.4" cy="1312.2" r="13.4"/><circle cx="886.1" cy="1352.3" r="13.4"/><circle cx="759.2" cy="1395.9" r="13.4"/><circle cx="973.2" cy="1317.3" r="13.4"/><circle cx="1179.3" cy="1159.6" r="13.4"/><circle cx="788.9" cy="1383.5" r="13.4"/><circle cx="655.4" cy="1402.6" r="13.4"/><circle cx="947.4" cy="1343.5" r="13.4"/><circle cx="987.8" cy="1316.7" r="13.4"/><circle cx="958.9" cy="1339.6" r="13.4"/><circle cx="822.8" cy="1375.7" r="13.4"/><circle cx="823.4" cy="1372.4" r="13.4"/><circle cx="919.2" cy="1325.7" r="13.4"/><circle cx="727.0" cy="1397.5" r="13.4"/><circle cx="982.0" cy="1310.6" r="13.4"/><circle cx="998.0" cy="1288.6" r="13.4"/><circle cx="787.3" cy="1383.9" r="13.4"/><circle cx="1046.1" cy="1279.4" r="13.4"/><circle cx="902.7" cy="1345.0" r="13.4"/><circle cx="1050.7" cy="1237.9" r="13.4"/><circle cx="909.6" cy="1348.9" r="13.4"/><circle cx="818.4" cy="1384.8" r="13.4"/><circle cx="896.4" cy="1350.6" r="13.4"/><circle cx="904.8" cy="1348.5" r="13.4"/><circle cx="1113.3" cy="1233.1" r="13.4"/><circle cx="1036.2" cy="1276.6" r="13.4"/><circle cx="986.7" cy="1322.2" r="13.4"/><circle cx="841.7" cy="1372.1" r="13.4"/><circle cx="838.8" cy="1361.1" r="13.4"/><circle cx="977.8" cy="1323.2" r="13.4"/><circle cx="958.9" cy="1317.9" r="13.4"/><circle cx="938.4" cy="1334.6" r="13.4"/><circle cx="1051.3" cy="1276.5" r="13.4"/><circle cx="724.6" cy="1399.6" r="13.4"/><circle cx="901.2" cy="1357.1" r="13.4"/><circle cx="993.4" cy="1282.8" r="13.4"/><circle cx="1013.8" cy="1299.7" r="13.4"/><circle cx="924.0" cy="1348.7" r="13.4"/><circle cx="721.8" cy="1394.6" r="13.4"/><circle cx="1066.4" cy="1264.3" r="13.4"/><circle cx="792.8" cy="1375.4" r="13.4"/><circle cx="1144.4" cy="1218.5" r="13.4"/><circle cx="1079.1" cy="1261.1" r="13.4"/><circle cx="937.1" cy="1325.4" r="13.4"/><circle cx="734.3" cy="1397.0" r="13.4"/><circle cx="1003.3" cy="1312.2" r="13.4"/><circle cx="1006.3" cy="1313.9" r="13.4"/><circle cx="1017.8" cy="1299.5" r="13.4"/><circle cx="835.5" cy="1375.6" r="13.4"/><circle cx="1143.5" cy="1230.0" r="13.4"/><circle cx="879.3" cy="1351.8" r="13.4"/><circle cx="837.2" cy="1369.2" r="13.4"/><circle cx="899.7" cy="1348.9" r="13.4"/><circle cx="839.1" cy="1368.4" r="13.4"/><circle cx="864.4" cy="1349.0" r="13.4"/><circle cx="902.9" cy="1338.7" r="13.4"/></g>
<g class="f"><circle cx="1318.9" cy="1058.6" r="13.1"/><circle cx="1077.0" cy="1262.6" r="13.1"/><circle cx="1455.0" cy="897.3" r="13.1"/><circle cx="1060.9" cy="1268.1" r="13.1"/><circle cx="704.1" cy="1401.3" r="13.1"/><circle cx="786.0" cy="1381.9" r="13.1"/><circle cx="1025.2" cy="1276.3" r="13.1"/><circle cx="1488.0" cy="870.1" r="13.1"/><circle cx="1049.6" cy="1238.0" r="13.1"/><circle cx="922.4" cy="1340.8" r="13.1"/><circle cx="1406.6" cy="1010.3" r="13.1"/><circle cx="958.6" cy="1323.4" r="13.1"/><circle cx="730.5" cy="1391.2" r="13.1"/><circle cx="973.8" cy="1318.2" r="13.1"/><circle cx="1504.0" cy="811.8" r="13.1"/><circle cx="1004.7" cy="1293.6" r="13.1"/><circle cx="666.5" cy="1399.4" r="13.1"/><circle cx="780.8" cy="1378.4" r="13.1"/><circle cx="786.7" cy="1379.0" r="13.1"/><circle cx="739.9" cy="1394.9" r="13.1"/><circle cx="1052.1" cy="1300.1" r="13.1"/><circle cx="1035.7" cy="1229.8" r="13.1"/><circle cx="856.1" cy="1356.4" r="13.1"/><circle cx="1110.3" cy="1175.2" r="13.1"/><circle cx="1012.4" cy="1277.8" r="13.1"/><circle cx="640.8" cy="1408.9" r="13.1"/><circle cx="842.5" cy="1364.7" r="13.1"/><circle cx="1130.8" cy="1219.8" r="13.1"/><circle cx="657.7" cy="1397.9" r="13.1"/><circle cx="769.5" cy="1387.9" r="13.1"/><circle cx="833.8" cy="1378.6" r="13.1"/><circle cx="1184.1" cy="1178.6" r="13.1"/><circle cx="1151.4" cy="1197.3" r="13.1"/><circle cx="867.5" cy="1351.3" r="13.1"/><circle cx="1486.9" cy="923.8" r="13.1"/><circle cx="1131.6" cy="1201.5" r="13.1"/><circle cx="744.3" cy="1395.6" r="13.1"/><circle cx="1050.2" cy="1271.0" r="13.1"/><circle cx="992.2" cy="1307.7" r="13.1"/><circle cx="952.4" cy="1314.0" r="13.1"/></g>
<g class="m"><circle cx="1065.2" cy="1247.9" r="13.4"/><circle cx="752.4" cy="1391.2" r="13.4"/><circle cx="890.0" cy="1349.4" r="13.4"/><circle cx="917.8" cy="1345.1" r="13.4"/><circle cx="744.7" cy="1385.5" r="13.4"/><circle cx="980.4" cy="1298.1" r="13.4"/><circle cx="1087.7" cy="1248.5" r="13.4"/><circle cx="767.6" cy="1390.0" r="13.4"/><circle cx="914.4" cy="1351.9" r="13.4"/><circle cx="1035.0" cy="1279.6" r="13.4"/><circle cx="823.1" cy="1365.4" r="13.4"/><circle cx="793.8" cy="1379.9" r="13.4"/><circle cx="756.7" cy="1390.8" r="13.4"/><circle cx="934.9" cy="1332.6" r="13.4"/><circle cx="955.6" cy="1317.3" r="13.4"/><circle cx="736.2" cy="1393.4" r="13.4"/><circle cx="707.1" cy="1395.6" r="13.4"/><circle cx="1136.0" cy="1216.1" r="13.4"/><circle cx="970.4" cy="1323.8" r="13.4"/><circle cx="968.3" cy="1316.2" r="13.4"/><circle cx="845.1" cy="1374.4" r="13.4"/><circle cx="982.5" cy="1293.9" r="13.4"/><circle cx="1031.0" cy="1261.7" r="13.4"/><circle cx="849.7" cy="1371.7" r="13.4"/><circle cx="1014.1" cy="1301.2" r="13.4"/><circle cx="893.0" cy="1355.2" r="13.4"/><circle cx="873.6" cy="1365.4" r="13.4"/><circle cx="841.7" cy="1366.1" r="13.4"/><circle cx="791.4" cy="1375.0" r="13.4"/><circle cx="891.8" cy="1333.2" r="13.4"/><circle cx="1130.5" cy="1199.0" r="13.4"/><circle cx="934.6" cy="1343.0" r="13.4"/><circle cx="791.7" cy="1377.1" r="13.4"/><circle cx="821.8" cy="1370.5" r="13.4"/><circle cx="1086.6" cy="1230.9" r="13.4"/><circle cx="819.1" cy="1371.7" r="13.4"/><circle cx="804.2" cy="1379.9" r="13.4"/><circle cx="860.2" cy="1357.9" r="13.4"/><circle cx="814.1" cy="1371.1" r="13.4"/><circle cx="990.0" cy="1292.8" r="13.4"/><circle cx="1078.1" cy="1280.7" r="13.4"/><circle cx="937.4" cy="1323.5" r="13.4"/><circle cx="827.6" cy="1378.3" r="13.4"/><circle cx="1078.9" cy="1237.6" r="13.4"/><circle cx="1276.0" cy="1080.0" r="13.4"/><circle cx="778.6" cy="1377.3" r="13.4"/><circle cx="954.9" cy="1308.4" r="13.4"/><circle cx="758.2" cy="1385.1" r="13.4"/><circle cx="781.1" cy="1388.9" r="13.4"/><circle cx="869.5" cy="1356.1" r="13.4"/><circle cx="1015.0" cy="1296.3" r="13.4"/><circle cx="1047.2" cy="1285.1" r="13.4"/><circle cx="912.8" cy="1339.9" r="13.4"/><circle cx="1118.8" cy="1193.5" r="13.4"/><circle cx="777.6" cy="1381.4" r="13.4"/><circle cx="742.2" cy="1395.7" r="13.4"/><circle cx="943.6" cy="1330.8" r="13.4"/><circle cx="944.0" cy="1337.9" r="13.4"/><circle cx="684.2" cy="1402.2" r="13.4"/><circle cx="843.0" cy="1368.4" r="13.4"/><circle cx="1024.4" cy="1292.5" r="13.4"/><circle cx="890.7" cy="1361.7" r="13.4"/><circle cx="719.8" cy="1397.3" r="13.4"/><circle cx="924.2" cy="1332.9" r="13.4"/><circle cx="1000.8" cy="1314.1" r="13.4"/><circle cx="903.9" cy="1339.3" r="13.4"/><circle cx="736.8" cy="1396.9" r="13.4"/><circle cx="888.3" cy="1355.6" r="13.4"/><circle cx="789.7" cy="1374.9" r="13.4"/><circle cx="951.5" cy="1317.9" r="13.4"/><circle cx="1014.6" cy="1299.2" r="13.4"/><circle cx="1049.3" cy="1257.2" r="13.4"/><circle cx="1070.2" cy="1251.1" r="13.4"/><circle cx="726.4" cy="1398.1" r="13.4"/><circle cx="743.1" cy="1390.9" r="13.4"/><circle cx="820.3" cy="1372.0" r="13.4"/><circle cx="856.1" cy="1363.0" r="13.4"/><circle cx="948.2" cy="1321.1" r="13.4"/></g>
<g class="f"><circle cx="1038.1" cy="1248.7" r="13.1"/><circle cx="799.3" cy="1375.2" r="13.1"/><circle cx="957.1" cy="1314.7" r="13.1"/><circle cx="1291.3" cy="1086.8" r="13.1"/><circle cx="913.3" cy="1344.4" r="13.1"/><circle cx="1725.9" cy="662.6" r="13.1"/><circle cx="762.8" cy="1383.5" r="13.1"/><circle cx="1148.9" cy="1167.0" r="13.1"/><circle cx="1016.8" cy="1299.2" r="13.1"/><circle cx="1027.3" cy="1294.1" r="13.1"/><circle cx="1146.7" cy="1170.2" r="13.1"/><circle cx="1072.7" cy="1296.9" r="13.1"/><circle cx="1110.7" cy="1258.8" r="13.1"/><circle cx="745.4" cy="1388.3" r="13.1"/><circle cx="631.9" cy="1411.0" r="13.1"/><circle cx="813.3" cy="1376.4" r="13.1"/><circle cx="742.8" cy="1396.9" r="13.1"/><circle cx="787.0" cy="1378.3" r="13.1"/><circle cx="1049.6" cy="1277.1" r="13.1"/><circle cx="944.2" cy="1329.6" r="13.1"/><circle cx="1048.9" cy="1299.8" r="13.1"/><circle cx="1156.7" cy="1191.5" r="13.1"/><circle cx="1012.3" cy="1274.2" r="13.1"/><circle cx="683.9" cy="1404.4" r="13.1"/><circle cx="757.1" cy="1394.4" r="13.1"/><circle cx="1168.0" cy="1184.0" r="13.1"/><circle cx="1093.7" cy="1251.6" r="13.1"/><circle cx="1005.4" cy="1301.2" r="13.1"/><circle cx="1550.0" cy="659.4" r="13.1"/><circle cx="969.7" cy="1322.3" r="13.1"/><circle cx="866.9" cy="1356.5" r="13.1"/><circle cx="808.3" cy="1389.1" r="13.1"/><circle cx="1049.8" cy="1260.7" r="13.1"/><circle cx="855.2" cy="1362.2" r="13.1"/><circle cx="1158.7" cy="1174.4" r="13.1"/><circle cx="913.7" cy="1331.4" r="13.1"/><circle cx="656.7" cy="1405.5" r="13.1"/><circle cx="1041.2" cy="1272.4" r="13.1"/><circle cx="998.0" cy="1284.2" r="13.1"/><circle cx="952.0" cy="1322.2" r="13.1"/></g>
<g class="m"><circle cx="1065.9" cy="1269.4" r="13.4"/><circle cx="696.0" cy="1394.2" r="13.4"/><circle cx="712.7" cy="1396.8" r="13.4"/><circle cx="683.4" cy="1403.5" r="13.4"/><circle cx="827.3" cy="1362.3" r="13.4"/><circle cx="884.6" cy="1347.6" r="13.4"/><circle cx="1360.3" cy="1053.0" r="13.4"/><circle cx="723.4" cy="1396.0" r="13.4"/><circle cx="792.0" cy="1379.2" r="13.4"/><circle cx="912.9" cy="1341.6" r="13.4"/><circle cx="1345.8" cy="1038.6" r="13.4"/><circle cx="1004.4" cy="1306.7" r="13.4"/><circle cx="1028.4" cy="1298.1" r="13.4"/><circle cx="937.8" cy="1332.3" r="13.4"/><circle cx="973.8" cy="1313.2" r="13.4"/><circle cx="1032.8" cy="1279.7" r="13.4"/><circle cx="699.2" cy="1402.5" r="13.4"/><circle cx="985.0" cy="1316.2" r="13.4"/><circle cx="1013.9" cy="1305.9" r="13.4"/><circle cx="750.7" cy="1390.8" r="13.4"/><circle cx="873.0" cy="1370.5" r="13.4"/><circle cx="982.7" cy="1313.7" r="13.4"/><circle cx="872.7" cy="1359.3" r="13.4"/><circle cx="786.7" cy="1384.5" r="13.4"/><circle cx="982.9" cy="1313.5" r="13.4"/><circle cx="1021.7" cy="1278.0" r="13.4"/><circle cx="887.5" cy="1357.6" r="13.4"/><circle cx="1079.8" cy="1260.6" r="13.4"/><circle cx="992.4" cy="1323.5" r="13.4"/><circle cx="1067.7" cy="1260.6" r="13.4"/><circle cx="834.4" cy="1362.8" r="13.4"/><circle cx="771.9" cy="1391.2" r="13.4"/><circle cx="1046.8" cy="1256.0" r="13.4"/><circle cx="992.5" cy="1292.5" r="13.4"/><circle cx="881.2" cy="1359.0" r="13.4"/><circle cx="807.4" cy="1377.4" r="13.4"/><circle cx="873.6" cy="1358.3" r="13.4"/><circle cx="786.3" cy="1379.1" r="13.4"/><circle cx="962.8" cy="1305.3" r="13.4"/><circle cx="1004.6" cy="1307.9" r="13.4"/><circle cx="787.8" cy="1387.0" r="13.4"/><circle cx="826.3" cy="1364.5" r="13.4"/><circle cx="1044.6" cy="1275.9" r="13.4"/><circle cx="826.0" cy="1380.0" r="13.4"/><circle cx="562.5" cy="1417.5" r="13.4"/><circle cx="871.6" cy="1352.5" r="13.4"/><circle cx="1011.1" cy="1309.4" r="13.4"/><circle cx="880.9" cy="1359.0" r="13.4"/><circle cx="596.2" cy="1411.2" r="13.4"/><circle cx="963.0" cy="1326.7" r="13.4"/><circle cx="839.6" cy="1353.6" r="13.4"/><circle cx="926.6" cy="1328.9" r="13.4"/><circle cx="863.4" cy="1356.7" r="13.4"/><circle cx="1143.5" cy="1188.9" r="13.4"/><circle cx="910.0" cy="1343.5" r="13.4"/><circle cx="876.3" cy="1359.3" r="13.4"/><circle cx="1021.1" cy="1269.6" r="13.4"/><circle cx="826.3" cy="1379.0" r="13.4"/><circle cx="870.8" cy="1350.3" r="13.4"/><circle cx="685.2" cy="1404.2" r="13.4"/><circle cx="856.2" cy="1361.5" r="13.4"/><circle cx="629.0" cy="1410.5" r="13.4"/><circle cx="893.0" cy="1354.7" r="13.4"/><circle cx="813.8" cy="1387.6" r="13.4"/><circle cx="742.6" cy="1392.3" r="13.4"/><circle cx="963.3" cy="1293.6" r="13.4"/><circle cx="822.8" cy="1376.3" r="13.4"/><circle cx="889.6" cy="1358.7" r="13.4"/><circle cx="824.7" cy="1371.5" r="13.4"/><circle cx="714.7" cy="1398.4" r="13.4"/><circle cx="935.8" cy="1314.9" r="13.4"/><circle cx="893.8" cy="1332.7" r="13.4"/><circle cx="872.5" cy="1363.6" r="13.4"/><circle cx="882.6" cy="1356.5" r="13.4"/><circle cx="916.0" cy="1350.8" r="13.4"/><circle cx="1040.0" cy="1273.8" r="13.4"/><circle cx="667.5" cy="1405.4" r="13.4"/><circle cx="933.1" cy="1332.5" r="13.4"/></g>
<g class="f"><circle cx="1488.2" cy="963.3" r="13.1"/><circle cx="703.3" cy="1400.4" r="13.1"/><circle cx="996.9" cy="1291.1" r="13.1"/><circle cx="1077.4" cy="1254.0" r="13.1"/><circle cx="722.8" cy="1394.3" r="13.1"/><circle cx="950.5" cy="1325.5" r="13.1"/><circle cx="1433.0" cy="946.4" r="13.1"/><circle cx="906.3" cy="1339.2" r="13.1"/><circle cx="1059.6" cy="1241.7" r="13.1"/><circle cx="783.0" cy="1380.8" r="13.1"/><circle cx="987.6" cy="1306.6" r="13.1"/><circle cx="970.3" cy="1321.4" r="13.1"/><circle cx="963.4" cy="1326.0" r="13.1"/><circle cx="1135.9" cy="1173.2" r="13.1"/><circle cx="1031.5" cy="1265.8" r="13.1"/><circle cx="1084.1" cy="1208.4" r="13.1"/><circle cx="622.1" cy="1412.9" r="13.1"/><circle cx="1436.1" cy="994.7" r="13.1"/><circle cx="931.4" cy="1325.6" r="13.1"/><circle cx="940.7" cy="1343.2" r="13.1"/><circle cx="1028.9" cy="1307.3" r="13.1"/><circle cx="1070.8" cy="1241.8" r="13.1"/><circle cx="1076.2" cy="1272.5" r="13.1"/><circle cx="943.0" cy="1340.3" r="13.1"/><circle cx="1195.6" cy="1105.6" r="13.1"/><circle cx="1317.6" cy="1075.5" r="13.1"/><circle cx="958.7" cy="1333.1" r="13.1"/><circle cx="680.2" cy="1403.3" r="13.1"/><circle cx="903.0" cy="1344.1" r="13.1"/><circle cx="1137.9" cy="1260.5" r="13.1"/><circle cx="1098.6" cy="1219.6" r="13.1"/><circle cx="600.8" cy="1411.5" r="13.1"/><circle cx="1122.2" cy="1234.4" r="13.1"/><circle cx="840.2" cy="1366.0" r="13.1"/><circle cx="856.3" cy="1365.9" r="13.1"/><circle cx="654.3" cy="1409.2" r="13.1"/><circle cx="988.1" cy="1322.5" r="13.1"/><circle cx="942.7" cy="1334.2" r="13.1"/><circle cx="1195.6" cy="1157.7" r="13.1"/><circle cx="1118.1" cy="1227.7" r="13.1"/></g>
<g class="m"><circle cx="892.4" cy="1344.8" r="13.4"/><circle cx="1065.3" cy="1270.1" r="13.4"/><circle cx="792.4" cy="1375.5" r="13.4"/><circle cx="1016.1" cy="1283.6" r="13.4"/><circle cx="1030.1" cy="1279.3" r="13.4"/><circle cx="965.1" cy="1311.8" r="13.4"/><circle cx="935.3" cy="1324.3" r="13.4"/><circle cx="839.4" cy="1372.0" r="13.4"/><circle cx="865.5" cy="1353.7" r="13.4"/><circle cx="905.7" cy="1340.3" r="13.4"/><circle cx="904.9" cy="1336.7" r="13.4"/><circle cx="833.4" cy="1356.9" r="13.4"/><circle cx="970.8" cy="1294.1" r="13.4"/><circle cx="747.0" cy="1393.1" r="13.4"/><circle cx="1029.2" cy="1282.6" r="13.4"/><circle cx="986.2" cy="1284.4" r="13.4"/><circle cx="818.7" cy="1374.7" r="13.4"/><circle cx="866.9" cy="1359.0" r="13.4"/><circle cx="837.0" cy="1366.6" r="13.4"/><circle cx="787.4" cy="1376.5" r="13.4"/><circle cx="898.8" cy="1348.3" r="13.4"/><circle cx="763.1" cy="1392.3" r="13.4"/><circle cx="832.6" cy="1368.3" r="13.4"/><circle cx="860.3" cy="1363.7" r="13.4"/><circle cx="862.5" cy="1347.6" r="13.4"/><circle cx="1046.4" cy="1282.1" r="13.4"/><circle cx="1018.0" cy="1299.1" r="13.4"/><circle cx="1015.1" cy="1289.1" r="13.4"/><circle cx="882.1" cy="1352.9" r="13.4"/><circle cx="940.1" cy="1332.8" r="13.4"/><circle cx="752.7" cy="1394.1" r="13.4"/><circle cx="1094.2" cy="1231.5" r="13.4"/><circle cx="880.5" cy="1360.6" r="13.4"/><circle cx="941.5" cy="1340.0" r="13.4"/><circle cx="963.7" cy="1305.2" r="13.4"/><circle cx="938.8" cy="1317.8" r="13.4"/><circle cx="768.9" cy="1383.5" r="13.4"/><circle cx="894.1" cy="1323.1" r="13.4"/><circle cx="788.1" cy="1390.4" r="13.4"/><circle cx="1021.4" cy="1283.8" r="13.4"/><circle cx="972.9" cy="1307.5" r="13.4"/><circle cx="799.7" cy="1377.5" r="13.4"/><circle cx="904.0" cy="1344.7" r="13.4"/><circle cx="1030.8" cy="1301.9" r="13.4"/><circle cx="880.3" cy="1343.9" r="13.4"/><circle cx="1015.7" cy="1292.3" r="13.4"/><circle cx="1230.0" cy="1162.5" r="13.4"/><circle cx="662.2" cy="1403.5" r="13.4"/><circle cx="1046.0" cy="1249.1" r="13.4"/><circle cx="827.4" cy="1356.4" r="13.4"/><circle cx="876.1" cy="1356.8" r="13.4"/><circle cx="764.1" cy="1391.0" r="13.4"/><circle cx="675.1" cy="1405.0" r="13.4"/><circle cx="937.0" cy="1340.7" r="13.4"/><circle cx="875.7" cy="1357.0" r="13.4"/><circle cx="998.5" cy="1305.7" r="13.4"/><circle cx="932.0" cy="1330.9" r="13.4"/><circle cx="911.1" cy="1328.0" r="13.4"/><circle cx="1028.6" cy="1296.2" r="13.4"/><circle cx="726.5" cy="1393.3" r="13.4"/><circle cx="886.9" cy="1347.1" r="13.4"/><circle cx="960.0" cy="1326.3" r="13.4"/><circle cx="824.0" cy="1376.7" r="13.4"/><circle cx="732.1" cy="1389.8" r="13.4"/><circle cx="940.7" cy="1330.5" r="13.4"/><circle cx="739.3" cy="1395.1" r="13.4"/><circle cx="842.4" cy="1374.0" r="13.4"/><circle cx="916.3" cy="1336.0" r="13.4"/><circle cx="883.8" cy="1339.5" r="13.4"/><circle cx="808.3" cy="1376.3" r="13.4"/><circle cx="1082.8" cy="1251.7" r="13.4"/><circle cx="891.7" cy="1351.0" r="13.4"/><circle cx="767.5" cy="1390.6" r="13.4"/><circle cx="950.4" cy="1322.9" r="13.4"/><circle cx="627.7" cy="1406.4" r="13.4"/><circle cx="595.4" cy="1414.2" r="13.4"/><circle cx="1004.7" cy="1290.6" r="13.4"/><circle cx="1028.9" cy="1294.1" r="13.4"/></g>
<g class="f"><circle cx="931.0" cy="1325.6" r="13.1"/><circle cx="638.9" cy="1409.5" r="13.1"/><circle cx="1132.5" cy="1201.7" r="13.1"/><circle cx="946.7" cy="1332.5" r="13.1"/><circle cx="1488.2" cy="939.5" r="13.1"/><circle cx="862.9" cy="1364.1" r="13.1"/><circle cx="1106.7" cy="1200.6" r="13.1"/><circle cx="1032.5" cy="1299.0" r="13.1"/><circle cx="797.5" cy="1381.7" r="13.1"/><circle cx="1374.0" cy="1088.1" r="13.1"/><circle cx="807.1" cy="1371.6" r="13.1"/><circle cx="1075.2" cy="1165.8" r="13.1"/><circle cx="954.2" cy="1303.0" r="13.1"/><circle cx="812.1" cy="1362.9" r="13.1"/><circle cx="855.9" cy="1362.3" r="13.1"/><circle cx="842.8" cy="1364.3" r="13.1"/><circle cx="1115.0" cy="1234.6" r="13.1"/><circle cx="665.4" cy="1399.6" r="13.1"/><circle cx="1133.4" cy="1254.5" r="13.1"/><circle cx="826.9" cy="1378.2" r="13.1"/><circle cx="728.7" cy="1395.7" r="13.1"/><circle cx="788.1" cy="1382.4" r="13.1"/><circle cx="571.5" cy="1415.5" r="13.1"/><circle cx="1501.9" cy="936.4" r="13.1"/><circle cx="986.5" cy="1318.4" r="13.1"/><circle cx="1018.4" cy="1289.8" r="13.1"/><circle cx="1131.6" cy="1199.5" r="13.1"/><circle cx="969.9" cy="1311.5" r="13.1"/><circle cx="748.3" cy="1391.2" r="13.1"/><circle cx="689.4" cy="1401.4" r="13.1"/><circle cx="600.4" cy="1414.7" r="13.1"/><circle cx="1077.7" cy="1187.1" r="13.1"/><circle cx="1089.1" cy="1242.4" r="13.1"/><circle cx="1443.0" cy="952.7" r="13.1"/><circle cx="1002.9" cy="1278.1" r="13.1"/><circle cx="1108.0" cy="1220.5" r="13.1"/><circle cx="618.0" cy="1409.0" r="13.1"/><circle cx="854.9" cy="1362.8" r="13.1"/><circle cx="984.4" cy="1296.9" r="13.1"/><circle cx="1090.8" cy="1245.8" r="13.1"/></g>
<g class="m"><circle cx="770.3" cy="1384.0" r="13.4"/><circle cx="929.8" cy="1322.5" r="13.4"/><circle cx="1065.5" cy="1267.4" r="13.4"/><circle cx="882.7" cy="1349.6" r="13.4"/><circle cx="796.5" cy="1382.0" r="13.4"/><circle cx="573.5" cy="1416.5" r="13.4"/><circle cx="938.9" cy="1341.2" r="13.4"/><circle cx="879.6" cy="1365.0" r="13.4"/><circle cx="946.0" cy="1341.0" r="13.4"/><circle cx="839.6" cy="1369.9" r="13.4"/><circle cx="1020.3" cy="1295.4" r="13.4"/><circle cx="1013.5" cy="1279.6" r="13.4"/><circle cx="661.1" cy="1407.4" r="13.4"/><circle cx="677.0" cy="1402.2" r="13.4"/><circle cx="722.7" cy="1396.6" r="13.4"/><circle cx="900.4" cy="1349.2" r="13.4"/><circle cx="862.9" cy="1355.9" r="13.4"/><circle cx="762.7" cy="1387.1" r="13.4"/><circle cx="771.6" cy="1383.4" r="13.4"/><circle cx="932.5" cy="1321.2" r="13.4"/><circle cx="988.3" cy="1312.5" r="13.4"/><circle cx="976.2" cy="1301.1" r="13.4"/><circle cx="1367.8" cy="979.6" r="13.4"/><circle cx="1003.9" cy="1295.4" r="13.4"/><circle cx="937.3" cy="1353.7" r="13.4"/><circle cx="845.8" cy="1363.7" r="13.4"/><circle cx="823.1" cy="1377.3" r="13.4"/><circle cx="677.7" cy="1401.8" r="13.4"/><circle cx="867.4" cy="1361.9" r="13.4"/><circle cx="626.9" cy="1410.5" r="13.4"/><circle cx="939.0" cy="1304.2" r="13.4"/><circle cx="1014.5" cy="1275.6" r="13.4"/><circle cx="1034.2" cy="1280.0" r="13.4"/><circle cx="768.6" cy="1382.1" r="13.4"/><circle cx="791.5" cy="1379.5" r="13.4"/><circle cx="956.8" cy="1326.4" r="13.4"/><circle cx="981.2" cy="1314.9" r="13.4"/><circle cx="720.8" cy="1402.2" r="13.4"/><circle cx="598.1" cy="1412.6" r="13.4"/><circle cx="850.7" cy="1356.4" r="13.4"/><circle cx="997.1" cy="1295.0" r="13.4"/><circle cx="757.4" cy="1393.9" r="13.4"/><circle cx="964.0" cy="1327.3" r="13.4"/><circle cx="1194.4" cy="1160.2" r="13.4"/><circle cx="968.1" cy="1305.8" r="13.4"/><circle cx="941.0" cy="1320.4" r="13.4"/><circle cx="1072.4" cy="1242.7" r="13.4"/><circle cx="979.9" cy="1310.3" r="13.4"/><circle cx="808.3" cy="1381.4" r="13.4"/><circle cx="1051.9" cy="1290.2" r="13.4"/><circle cx="900.6" cy="1349.5" r="13.4"/><circle cx="832.9" cy="1369.1" r="13.4"/><circle cx="1008.5" cy="1289.0" r="13.4"/><circle cx="1022.4" cy="1284.1" r="13.4"/><circle cx="753.7" cy="1387.8" r="13.4"/><circle cx="928.9" cy="1344.6" r="13.4"/><circle cx="911.9" cy="1343.5" r="13.4"/><circle cx="937.2" cy="1334.1" r="13.4"/><circle cx="925.6" cy="1330.0" r="13.4"/><circle cx="788.9" cy="1374.5" r="13.4"/><circle cx="976.5" cy="1308.0" r="13.4"/><circle cx="1024.5" cy="1274.0" r="13.4"/><circle cx="883.8" cy="1343.9" r="13.4"/><circle cx="842.0" cy="1369.6" r="13.4"/><circle cx="805.1" cy="1368.9" r="13.4"/><circle cx="927.2" cy="1342.1" r="13.4"/><circle cx="1067.6" cy="1248.2" r="13.4"/><circle cx="818.9" cy="1372.4" r="13.4"/><circle cx="855.3" cy="1354.5" r="13.4"/><circle cx="774.3" cy="1384.8" r="13.4"/><circle cx="577.4" cy="1413.0" r="13.4"/><circle cx="648.4" cy="1408.6" r="13.4"/><circle cx="961.5" cy="1329.4" r="13.4"/><circle cx="752.5" cy="1392.8" r="13.4"/><circle cx="884.4" cy="1350.3" r="13.4"/><circle cx="1037.3" cy="1279.5" r="13.4"/><circle cx="965.1" cy="1336.9" r="13.4"/><circle cx="891.8" cy="1350.9" r="13.4"/></g>
<g stroke="#a8a8a8" stroke-width="2.45" fill="none">
<line x1="544.5" y1="0" x2="544.5" y2="1720.5"/>
<line x1="870.0" y1="0" x2="870.0" y2="1720.5"/>
<line x1="1195.4" y1="0" x2="1195.4" y2="1720.5"/>
<line x1="1520.9" y1="0" x2="1520.9" y2="1720.5"/>
<line x1="1846.4" y1="0" x2="1846.4" y2="1720.5"/>
<line x1="199.5" y1="1424.8" x2="1919" y2="1424.8"/>
<line x1="199.5" y1="992.5" x2="1919" y2="992.5"/>
<line x1="199.5" y1="560.3" x2="1919" y2="560.3"/>
<line x1="199.5" y1="128.1" x2="1919" y2="128.1"/>
</g>
<g fill="none" stroke-linecap="round" stroke-linejoin="round">
<path d="M498.1 1419.5 L503.3 1419.2 L508.6 1418.8 L513.9 1418.5 L519.1 1418.2 L524.4 1417.8 L529.7 1417.5 L534.9 1417.1 L540.2 1416.7 L545.5 1416.3 L550.7 1415.9 L556.0 1415.4 L561.3 1415.0 L566.6 1414.5 L571.8 1414.0 L577.1 1413.5 L582.4 1413.0 L587.6 1412.5 L592.9 1412.0 L598.2 1411.4 L603.4 1410.8 L608.7 1410.3 L614.0 1409.7 L619.3 1409.0 L624.5 1408.4 L629.8 1407.7 L635.1 1407.0 L640.3 1406.4 L645.6 1405.6 L650.9 1404.9 L656.1 1404.2 L661.4 1403.4 L666.7 1402.6 L671.9 1401.8 L677.2 1400.9 L682.5 1400.1 L687.8 1399.2 L693.0 1398.3 L698.3 1397.4 L703.6 1396.5 L708.8 1395.5 L714.1 1394.5 L719.4 1393.5 L724.6 1392.5 L729.9 1391.5 L735.2 1390.4 L740.5 1389.3 L745.7 1388.2 L751.0 1387.1 L756.3 1385.9 L761.5 1384.7 L766.8 1383.5 L772.1 1382.3 L777.3 1381.0 L782.6 1379.7 L787.9 1378.4 L793.2 1377.0 L798.4 1375.7 L803.7 1374.3 L809.0 1372.9 L814.2 1371.4 L819.5 1369.9 L824.8 1368.4 L830.0 1366.9 L835.3 1365.4 L840.6 1363.8 L845.8 1362.2 L851.1 1360.5 L856.4 1358.9 L861.7 1357.2 L866.9 1355.4 L872.2 1353.7 L877.5 1351.9 L882.7 1350.0 L888.0 1348.2 L893.3 1346.3 L898.5 1344.4 L903.8 1342.5 L909.1 1340.5 L914.4 1338.5 L919.6 1336.4 L924.9 1334.4 L930.2 1332.3 L935.4 1330.1 L940.7 1327.9 L946.0 1325.7 L951.2 1323.5 L956.5 1321.2 L961.8 1318.9 L967.0 1316.6 L972.3 1314.2 L977.6 1311.8 L982.9 1309.3 L988.1 1306.8 L993.4 1304.3 L998.7 1301.8 L1003.9 1299.2 L1009.2 1296.5 L1014.5 1293.9 L1019.7 1291.1 L1025.0 1288.4 L1030.3 1285.6 L1035.6 1282.8 L1040.8 1279.9 L1046.1 1277.0 L1051.4 1274.1 L1056.6 1271.1 L1061.9 1268.1 L1067.2 1265.1 L1072.4 1262.0 L1077.7 1258.8 L1083.0 1255.6 L1088.2 1252.4 L1093.5 1249.2 L1098.8 1245.9 L1104.1 1242.5 L1109.3 1239.1 L1114.6 1235.7 L1119.9 1232.2 L1125.1 1228.7 L1130.4 1225.2 L1135.7 1221.5 L1140.9 1217.9 L1146.2 1214.2 L1151.5 1210.5 L1156.8 1206.7 L1162.0 1202.9 L1167.3 1199.0 L1172.6 1195.1 L1177.8 1191.1 L1183.1 1187.1 L1188.4 1183.1 L1193.6 1179.0 L1198.9 1174.8 L1204.2 1170.6 L1209.4 1166.4 L1214.7 1162.1 L1220.0 1157.8 L1225.3 1153.4 L1230.5 1148.9 L1235.8 1144.5 L1241.1 1139.9 L1246.3 1135.3 L1251.6 1130.7 L1256.9 1126.0 L1262.1 1121.3 L1267.4 1116.5 L1272.7 1111.7 L1278.0 1106.8 L1283.2 1101.9 L1288.5 1096.9 L1293.8 1091.8 L1299.0 1086.7 L1304.3 1081.6 L1309.6 1076.4 L1314.8 1071.2 L1320.1 1065.8 L1325.4 1060.5 L1330.6 1055.1 L1335.9 1049.6 L1341.2 1044.1 L1346.5 1038.5 L1351.7 1032.9 L1357.0 1027.2 L1362.3 1021.5 L1367.5 1015.7 L1372.8 1009.8 L1378.1 1003.9 L1383.3 997.9 L1388.6 991.9 L1393.9 985.8 L1399.2 979.7 L1404.4 973.5 L1409.7 967.2 L1415.0 960.9 L1420.2 954.5 L1425.5 948.1 L1430.8 941.6 L1436.0 935.1 L1441.3 928.5 L1446.6 921.8 L1451.8 915.0 L1457.1 908.3 L1462.4 901.4 L1467.7 894.5 L1472.9 887.5 L1478.2 880.5 L1483.5 873.4 L1488.7 866.2 L1494.0 859.0 L1499.3 851.7 L1504.5 844.3 L1509.8 836.9 L1515.1 829.4 L1520.4 821.9 L1525.6 814.3 L1530.9 806.6 L1536.2 798.8 L1541.4 791.0 L1546.7 783.2 L1552.0 775.2 L1557.2 767.2 L1562.5 759.2 L1567.8 751.0 L1573.0 742.8 L1578.3 734.5 L1583.6 726.2 L1588.9 717.8 L1594.1 709.3 L1599.4 700.8 L1604.7 692.1 L1609.9 683.5 L1615.2 674.7 L1620.5 665.9 L1625.7 657.0 L1631.0 648.0 L1636.3 639.0 L1641.6 629.9 L1646.8 620.7 L1652.1 611.5 L1657.4 602.1 L1662.6 592.7 L1667.9 583.3 L1673.2 573.7 L1678.4 564.1 L1683.7 554.4 L1689.0 544.7 L1694.2 534.8 L1699.5 524.9 L1704.8 515.0 L1710.1 504.9 L1715.3 494.8 L1720.6 484.6 L1725.9 474.3 L1731.1 463.9 L1736.4 453.5 L1741.7 443.0 L1746.9 432.4 L1752.2 421.7 L1757.5 411.0 L1762.8 400.2 L1768.0 389.3 L1773.3 378.3 L1778.6 367.2 L1783.8 356.1 L1789.1 344.9 L1794.4 333.6 L1799.6 322.2 L1804.9 310.8 L1810.2 299.2 L1815.4 287.6 L1820.7 275.9 L1826.0 264.1 L1831.3 252.3 L1836.5 240.3 L1841.8 228.3 L1847.1 216.2 L1852.3 204.0 L1857.6 191.7 L1862.9 179.4" stroke="#000" stroke-width="5.86"/>
<path d="M498.1 1419.9 L503.3 1419.6 L508.6 1419.3 L513.9 1419.0 L519.1 1418.8 L524.4 1418.5 L529.7 1418.2 L534.9 1417.9 L540.2 1417.6 L545.5 1417.3 L550.7 1416.9 L556.0 1416.6 L561.3 1416.2 L566.6 1415.8 L571.8 1415.4 L577.1 1415.0 L582.4 1414.5 L587.6 1414.0 L592.9 1413.4 L598.2 1412.9 L603.4 1412.3 L608.7 1411.7 L614.0 1411.1 L619.3 1410.5 L624.5 1409.9 L629.8 1409.2 L635.1 1408.5 L640.3 1407.8 L645.6 1407.1 L650.9 1406.4 L656.1 1405.6 L661.4 1404.9 L666.7 1404.1 L671.9 1403.2 L677.2 1402.4 L682.5 1401.6 L687.8 1400.7 L693.0 1399.8 L698.3 1398.9 L703.6 1398.0 L708.8 1397.0 L714.1 1396.0 L719.4 1395.0 L724.6 1394.0 L729.9 1392.9 L735.2 1391.9 L740.5 1390.8 L745.7 1389.7 L751.0 1388.5 L756.3 1387.4 L761.5 1386.2 L766.8 1385.0 L772.1 1383.7 L777.3 1382.5 L782.6 1381.2 L787.9 1379.9 L793.2 1378.5 L798.4 1377.1 L803.7 1375.8 L809.0 1374.3 L814.2 1372.9 L819.5 1371.4 L824.8 1369.9 L830.0 1368.4 L835.3 1366.8 L840.6 1365.2 L845.8 1363.6 L851.1 1362.0 L856.4 1360.4 L861.7 1358.7 L866.9 1357.0 L872.2 1355.3 L877.5 1353.5 L882.7 1351.8 L888.0 1350.0 L893.3 1348.1 L898.5 1346.2 L903.8 1344.3 L909.1 1342.4 L914.4 1340.5 L919.6 1338.5 L924.9 1336.4 L930.2 1334.4 L935.4 1332.3 L940.7 1330.2 L946.0 1328.0 L951.2 1325.8 L956.5 1323.6 L961.8 1321.3 L967.0 1319.0 L972.3 1316.7 L977.6 1314.4 L982.9 1312.0 L988.1 1309.5 L993.4 1307.1 L998.7 1304.6 L1003.9 1302.0 L1009.2 1299.5 L1014.5 1296.9 L1019.7 1294.2 L1025.0 1291.6 L1030.3 1288.9 L1035.6 1286.1 L1040.8 1283.4 L1046.1 1280.6 L1051.4 1277.7 L1056.6 1274.8 L1061.9 1271.9 L1067.2 1269.0 L1072.4 1266.0 L1077.7 1262.9 L1083.0 1259.8 L1088.2 1256.7 L1093.5 1253.5 L1098.8 1250.3 L1104.1 1247.1 L1109.3 1243.7 L1114.6 1240.4 L1119.9 1237.0 L1125.1 1233.5 L1130.4 1230.0 L1135.7 1226.4 L1140.9 1222.8 L1146.2 1219.2 L1151.5 1215.5 L1156.8 1211.7 L1162.0 1207.9 L1167.3 1204.1 L1172.6 1200.2 L1177.8 1196.3 L1183.1 1192.3 L1188.4 1188.3 L1193.6 1184.2 L1198.9 1180.1 L1204.2 1175.9 L1209.4 1171.7 L1214.7 1167.4 L1220.0 1163.2 L1225.3 1158.8 L1230.5 1154.4 L1235.8 1150.0 L1241.1 1145.6 L1246.3 1141.0 L1251.6 1136.5 L1256.9 1131.8 L1262.1 1127.2 L1267.4 1122.5 L1272.7 1117.7 L1278.0 1112.9 L1283.2 1108.0 L1288.5 1103.1 L1293.8 1098.1 L1299.0 1093.1 L1304.3 1088.0 L1309.6 1082.9 L1314.8 1077.7 L1320.1 1072.5 L1325.4 1067.2 L1330.6 1061.9 L1335.9 1056.5 L1341.2 1051.0 L1346.5 1045.5 L1351.7 1040.0 L1357.0 1034.4 L1362.3 1028.7 L1367.5 1023.0 L1372.8 1017.3 L1378.1 1011.5 L1383.3 1005.6 L1388.6 999.7 L1393.9 993.7 L1399.2 987.7 L1404.4 981.6 L1409.7 975.5 L1415.0 969.3 L1420.2 963.1 L1425.5 956.8 L1430.8 950.5 L1436.0 944.1 L1441.3 937.7 L1446.6 931.2 L1451.8 924.7 L1457.1 918.1 L1462.4 911.4 L1467.7 904.7 L1472.9 897.9 L1478.2 891.1 L1483.5 884.3 L1488.7 877.3 L1494.0 870.3 L1499.3 863.3 L1504.5 856.2 L1509.8 849.0 L1515.1 841.8 L1520.4 834.5 L1525.6 827.2 L1530.9 819.8 L1536.2 812.3 L1541.4 804.7 L1546.7 797.1 L1552.0 789.5 L1557.2 781.8 L1562.5 774.0 L1567.8 766.1 L1573.0 758.2 L1578.3 750.3 L1583.6 742.3 L1588.9 734.2 L1594.1 726.1 L1599.4 717.9 L1604.7 709.7 L1609.9 701.4 L1615.2 693.0 L1620.5 684.6 L1625.7 676.0 L1631.0 667.5 L1636.3 658.8 L1641.6 650.1 L1646.8 641.3 L1652.1 632.4 L1657.4 623.4 L1662.6 614.3 L1667.9 605.2 L1673.2 596.0 L1678.4 586.6 L1683.7 577.2 L1689.0 567.7 L1694.2 558.2 L1699.5 548.5 L1704.8 538.8 L1710.1 529.0 L1715.3 519.1 L1720.6 509.2 L1725.9 499.2 L1731.1 489.1 L1736.4 478.9 L1741.7 468.7 L1746.9 458.4 L1752.2 448.0 L1757.5 437.5 L1762.8 427.0 L1768.0 416.4 L1773.3 405.7 L1778.6 394.9 L1783.8 384.1 L1789.1 373.2 L1794.4 362.2 L1799.6 351.1 L1804.9 339.9 L1810.2 328.7 L1815.4 317.4 L1820.7 306.0 L1826.0 294.5 L1831.3 283.0 L1836.5 271.4 L1841.8 259.7 L1847.1 247.9 L1852.3 236.0 L1857.6 224.0 L1862.9 212.0" stroke="#8b0000" stroke-width="5.56"/>
<path d="M498.1 1420.6 L503.3 1420.3 L508.6 1420.1 L513.9 1419.8 L519.1 1419.5 L524.4 1419.2 L529.7 1418.9 L534.9 1418.6 L540.2 1418.3 L545.5 1418.0 L550.7 1417.6 L556.0 1417.3 L561.3 1416.9 L566.6 1416.5 L571.8 1416.1 L577.1 1415.7 L582.4 1415.2 L587.6 1414.8 L592.9 1414.3 L598.2 1413.8 L603.4 1413.3 L608.7 1412.8 L614.0 1412.2 L619.3 1411.7 L624.5 1411.1 L629.8 1410.5 L635.1 1409.9 L640.3 1409.3 L645.6 1408.6 L650.9 1407.9 L656.1 1407.2 L661.4 1406.5 L666.7 1405.8 L671.9 1405.1 L677.2 1404.3 L682.5 1403.5 L687.8 1402.7 L693.0 1401.8 L698.3 1401.0 L703.6 1400.1 L708.8 1399.2 L714.1 1398.3 L719.4 1397.3 L724.6 1396.3 L729.9 1395.3 L735.2 1394.3 L740.5 1393.3 L745.7 1392.2 L751.0 1391.1 L756.3 1390.0 L761.5 1388.8 L766.8 1387.7 L772.1 1386.5 L777.3 1385.2 L782.6 1384.0 L787.9 1382.7 L793.2 1381.4 L798.4 1380.0 L803.7 1378.7 L809.0 1377.3 L814.2 1375.8 L819.5 1374.4 L824.8 1372.9 L830.0 1371.4 L835.3 1369.9 L840.6 1368.3 L845.8 1366.7 L851.1 1365.1 L856.4 1363.4 L861.7 1361.8 L866.9 1360.1 L872.2 1358.3 L877.5 1356.6 L882.7 1354.8 L888.0 1353.0 L893.3 1351.2 L898.5 1349.3 L903.8 1347.4 L909.1 1345.5 L914.4 1343.5 L919.6 1341.5 L924.9 1339.5 L930.2 1337.4 L935.4 1335.3 L940.7 1333.2 L946.0 1331.1 L951.2 1328.8 L956.5 1326.6 L961.8 1324.3 L967.0 1322.0 L972.3 1319.6 L977.6 1317.2 L982.9 1314.7 L988.1 1312.2 L993.4 1309.7 L998.7 1307.1 L1003.9 1304.4 L1009.2 1301.7 L1014.5 1299.0 L1019.7 1296.2 L1025.0 1293.4 L1030.3 1290.6 L1035.6 1287.8 L1040.8 1284.9 L1046.1 1282.0 L1051.4 1279.2 L1056.6 1276.3 L1061.9 1273.3 L1067.2 1270.3 L1072.4 1267.3 L1077.7 1264.3 L1083.0 1261.2 L1088.2 1258.1 L1093.5 1254.9 L1098.8 1251.7 L1104.1 1248.6 L1109.3 1245.4 L1114.6 1242.1 L1119.9 1238.9 L1125.1 1235.6 L1130.4 1232.3 L1135.7 1229.0 L1140.9 1225.8 L1146.2 1222.6 L1151.5 1219.3 L1156.8 1216.1 L1162.0 1212.7 L1167.3 1209.2 L1172.6 1205.6 L1177.8 1201.9 L1183.1 1198.1 L1188.4 1194.3 L1193.6 1190.4 L1198.9 1186.5 L1204.2 1182.5 L1209.4 1178.5 L1214.7 1174.5 L1220.0 1170.4 L1225.3 1166.3 L1230.5 1162.1 L1235.8 1157.9 L1241.1 1153.6 L1246.3 1149.3 L1251.6 1145.0 L1256.9 1140.6 L1262.1 1136.1 L1267.4 1131.6 L1272.7 1127.1 L1278.0 1122.5 L1283.2 1117.9 L1288.5 1113.2 L1293.8 1108.5 L1299.0 1103.8 L1304.3 1099.0 L1309.6 1094.2 L1314.8 1089.3 L1320.1 1084.4 L1325.4 1079.4 L1330.6 1074.4 L1335.9 1069.4 L1341.2 1064.3 L1346.5 1059.1 L1351.7 1053.9 L1357.0 1048.7 L1362.3 1043.4 L1367.5 1038.0 L1372.8 1032.6 L1378.1 1027.2 L1383.3 1021.7 L1388.6 1016.1 L1393.9 1010.5 L1399.2 1004.9 L1404.4 999.2 L1409.7 993.4 L1415.0 987.6 L1420.2 981.8 L1425.5 975.9 L1430.8 969.9 L1436.0 963.9 L1441.3 957.8 L1446.6 951.7 L1451.8 945.6 L1457.1 939.4 L1462.4 933.1 L1467.7 926.8 L1472.9 920.4 L1478.2 914.0 L1483.5 907.5 L1488.7 901.0 L1494.0 894.4 L1499.3 887.8 L1504.5 881.1 L1509.8 874.3 L1515.1 867.5 L1520.4 860.7 L1525.6 853.8 L1530.9 846.8 L1536.2 839.8 L1541.4 832.7 L1546.7 825.6 L1552.0 818.4 L1557.2 811.2 L1562.5 803.9 L1567.8 796.5 L1573.0 789.1 L1578.3 781.6 L1583.6 774.0 L1588.9 766.4 L1594.1 758.7 L1599.4 751.0 L1604.7 743.2 L1609.9 735.3 L1615.2 727.4 L1620.5 719.5 L1625.7 711.5 L1631.0 703.4 L1636.3 695.3 L1641.6 687.2 L1646.8 679.0 L1652.1 670.8 L1657.4 662.6 L1662.6 654.3 L1667.9 646.0 L1673.2 637.7 L1678.4 629.3 L1683.7 620.9 L1689.0 612.3 L1694.2 603.7 L1699.5 595.1 L1704.8 586.3 L1710.1 577.5 L1715.3 568.5 L1720.6 559.5 L1725.9 550.3 L1731.1 541.1 L1736.4 531.8 L1741.7 522.4 L1746.9 512.9 L1752.2 503.4 L1757.5 493.7 L1762.8 484.1 L1768.0 474.3 L1773.3 464.5 L1778.6 454.7 L1783.8 444.8 L1789.1 434.8 L1794.4 424.8 L1799.6 414.7 L1804.9 404.5 L1810.2 394.3 L1815.4 384.0 L1820.7 373.6 L1826.0 363.2 L1831.3 352.7 L1836.5 342.2 L1841.8 331.6 L1847.1 320.9 L1852.3 310.1 L1857.6 299.3 L1862.9 288.5" stroke="#000" stroke-width="5.86" stroke-dasharray="17.6 29.5"/>
<path d="M498.1 1420.6 L503.3 1420.3 L508.6 1420.1 L513.9 1419.8 L519.1 1419.5 L524.4 1419.2 L529.7 1418.9 L534.9 1418.6 L540.2 1418.3 L545.5 1418.0 L550.7 1417.6 L556.0 1417.3 L561.3 1416.9 L566.6 1416.5 L571.8 1416.1 L577.1 1415.7 L582.4 1415.2 L587.6 1414.8 L592.9 1414.3 L598.2 1413.8 L603.4 1413.3 L608.7 1412.8 L614.0 1412.2 L619.3 1411.7 L624.5 1411.1 L629.8 1410.5 L635.1 1409.9 L640.3 1409.3 L645.6 1408.6 L650.9 1407.9 L656.1 1407.2 L661.4 1406.5 L666.7 1405.8 L671.9 1405.1 L677.2 1404.3 L682.5 1403.5 L687.8 1402.7 L693.0 1401.8 L698.3 1401.0 L703.6 1400.1 L708.8 1399.2 L714.1 1398.3 L719.4 1397.3 L724.6 1396.3 L729.9 1395.3 L735.2 1394.3 L740.5 1393.3 L745.7 1392.2 L751.0 1391.1 L756.3 1390.0 L761.5 1388.8 L766.8 1387.7 L772.1 1386.5 L777.3 1385.2 L782.6 1384.0 L787.9 1382.7 L793.2 1381.4 L798.4 1380.0 L803.7 1378.7 L809.0 1377.3 L814.2 1375.8 L819.5 1374.4 L824.8 1372.9 L830.0 1371.4 L835.3 1369.9 L840.6 1368.3 L845.8 1366.7 L851.1 1365.1 L856.4 1363.4 L861.7 1361.8 L866.9 1360.1 L872.2 1358.3 L877.5 1356.6 L882.7 1354.8 L888.0 1353.0 L893.3 1351.2 L898.5 1349.3 L903.8 1347.4 L909.1 1345.5 L914.4 1343.5 L919.6 1341.5 L924.9 1339.5 L930.2 1337.4 L935.4 1335.3 L940.7 1333.2 L946.0 1331.1 L951.2 1328.8 L956.5 1326.6 L961.8 1324.3 L967.0 1322.0 L972.3 1319.6 L977.6 1317.2 L982.9 1314.7 L988.1 1312.2 L993.4 1309.7 L998.7 1307.1 L1003.9 1304.4 L1009.2 1301.7 L1014.5 1299.0 L1019.7 1296.2 L1025.0 1293.4 L1030.3 1290.6 L1035.6 1287.8 L1040.8 1284.9 L1046.1 1282.0 L1051.4 1279.2 L1056.6 1276.3 L1061.9 1273.3 L1067.2 1270.3 L1072.4 1267.3 L1077.7 1264.3 L1083.0 1261.2 L1088.2 1258.1 L1093.5 1254.9 L1098.8 1251.7 L1104.1 1248.6 L1109.3 1245.4 L1114.6 1242.1 L1119.9 1238.9 L1125.1 1235.6 L1130.4 1232.3 L1135.7 1229.0 L1140.9 1225.8 L1146.2 1222.5 L1151.5 1219.3 L1156.8 1216.1 L1162.0 1212.8 L1167.3 1209.6 L1172.6 1206.3 L1177.8 1203.1 L1183.1 1199.8 L1188.4 1196.6 L1193.6 1193.4 L1198.9 1190.1 L1204.2 1186.9 L1209.4 1183.6 L1214.7 1180.3 L1220.0 1176.9 L1225.3 1173.6 L1230.5 1170.2 L1235.8 1166.9 L1241.1 1163.4 L1246.3 1159.9 L1251.6 1156.3 L1256.9 1152.7 L1262.1 1149.1 L1267.4 1145.3 L1272.7 1141.6 L1278.0 1137.8 L1283.2 1133.9 L1288.5 1129.9 L1293.8 1125.9 L1299.0 1121.8 L1304.3 1117.7 L1309.6 1113.5 L1314.8 1109.2 L1320.1 1104.9 L1325.4 1100.5 L1330.6 1096.1 L1335.9 1091.7 L1341.2 1087.3 L1346.5 1082.7 L1351.7 1078.1 L1357.0 1073.3 L1362.3 1068.5 L1367.5 1063.5 L1372.8 1058.5 L1378.1 1053.4 L1383.3 1048.3 L1388.6 1043.1 L1393.9 1037.7 L1399.2 1032.3 L1404.4 1026.8 L1409.7 1021.3 L1415.0 1015.7 L1420.2 1010.0 L1425.5 1004.3 L1430.8 998.5 L1436.0 992.6 L1441.3 986.5 L1446.6 980.4 L1451.8 974.2 L1457.1 967.9 L1462.4 961.5 L1467.7 955.0 L1472.9 948.4 L1478.2 941.7 L1483.5 934.9 L1488.7 928.0 L1494.0 921.0 L1499.3 913.9 L1504.5 906.8 L1509.8 899.7 L1515.1 892.5 L1520.4 885.3 L1525.6 878.0 L1530.9 870.7 L1536.2 863.3 L1541.4 855.9 L1546.7 848.3 L1552.0 840.7 L1557.2 833.1 L1562.5 825.3 L1567.8 817.5 L1573.0 809.6 L1578.3 801.7 L1583.6 793.7 L1588.9 785.6 L1594.1 777.4 L1599.4 769.1 L1604.7 760.8 L1609.9 752.4 L1615.2 743.8 L1620.5 735.2 L1625.7 726.4 L1631.0 717.6 L1636.3 708.6 L1641.6 699.5 L1646.8 690.3 L1652.1 681.0 L1657.4 671.7 L1662.6 662.3 L1667.9 652.9 L1673.2 643.4 L1678.4 633.9 L1683.7 624.3 L1689.0 614.7 L1694.2 604.9 L1699.5 595.1 L1704.8 585.2 L1710.1 575.3 L1715.3 565.2 L1720.6 555.1 L1725.9 544.9 L1731.1 534.7 L1736.4 524.4 L1741.7 513.9 L1746.9 503.4 L1752.2 492.8 L1757.5 482.0 L1762.8 471.0 L1768.0 460.0 L1773.3 448.8 L1778.6 437.6 L1783.8 426.2 L1789.1 414.7 L1794.4 403.2 L1799.6 391.6 L1804.9 379.9 L1810.2 368.1 L1815.4 356.2 L1820.7 344.3 L1826.0 332.2 L1831.3 320.0 L1836.5 307.8 L1841.8 295.4 L1847.1 283.0 L1852.3 270.4 L1857.6 257.8 L1862.9 245.0" stroke="#8b0000" stroke-width="5.86" stroke-dasharray="17.6 29.5"/>
<path d="M498.1 1420.4 L501.5 1420.2 L504.9 1420.1 L508.3 1419.9 L511.7 1419.7 L515.2 1419.5 L518.6 1419.3 L522.0 1419.1 L525.4 1418.9 L528.8 1418.7 L532.3 1418.5 L535.7 1418.3 L539.1 1418.1 L542.5 1417.8 L545.9 1417.6 L549.4 1417.4 L552.8 1417.1 L556.2 1416.9 L559.6 1416.6 L563.0 1416.3 L566.5 1416.1 L569.9 1415.8 L573.3 1415.5 L576.7 1415.2 L580.1 1414.9 L583.6 1414.6 L587.0 1414.3 L590.4 1414.0 L593.8 1413.7 L597.3 1413.4 L600.7 1413.0 L604.1 1412.7 L607.5 1412.3 L610.9 1412.0 L614.4 1411.6 L617.8 1411.2 L621.2 1410.9 L624.6 1410.5 L628.0 1410.1 L631.5 1409.7 L634.9 1409.3 L638.3 1408.9 L641.7 1408.4 L645.1 1408.0 L648.6 1407.6 L652.0 1407.1 L655.4 1406.7 L658.8 1406.2 L662.2 1405.7 L665.7 1405.2 L669.1 1404.8 L672.5 1404.3 L675.9 1403.8 L679.3 1403.2 L682.8 1402.7 L686.2 1402.2 L689.6 1401.6 L693.0 1401.1 L696.4 1400.5 L699.9 1400.0 L703.3 1399.4 L706.7 1398.8 L710.1 1398.2 L713.6 1397.6 L717.0 1397.0 L720.4 1396.3 L723.8 1395.7 L727.2 1395.1 L730.7 1394.4 L734.1 1393.7 L737.5 1393.1 L740.9 1392.4 L744.3 1391.7 L747.8 1391.0 L751.2 1390.2 L754.6 1389.5 L758.0 1388.8 L761.4 1388.0 L764.9 1387.3 L768.3 1386.5 L771.7 1385.7 L775.1 1384.9 L778.5 1384.1 L782.0 1383.3 L785.4 1382.5 L788.8 1381.6 L792.2 1380.8 L795.6 1379.9 L799.1 1379.0 L802.5 1378.1 L805.9 1377.2 L809.3 1376.3 L812.7 1375.4 L816.2 1374.5 L819.6 1373.5 L823.0 1372.6 L826.4 1371.6 L829.9 1370.6 L833.3 1369.6 L836.7 1368.6 L840.1 1367.6 L843.5 1366.5 L847.0 1365.5 L850.4 1364.4 L853.8 1363.3 L857.2 1362.3 L860.6 1361.2 L864.1 1360.0 L867.5 1358.9 L870.9 1357.8 L874.3 1356.6 L877.7 1355.4 L881.2 1354.2 L884.6 1353.0 L888.0 1351.8 L891.4 1350.6 L894.8 1349.4 L898.3 1348.1 L901.7 1346.8 L905.1 1345.5 L908.5 1344.2 L911.9 1342.9 L915.4 1341.6 L918.8 1340.2 L922.2 1338.9 L925.6 1337.5 L929.0 1336.1 L932.5 1334.7 L935.9 1333.3 L939.3 1331.8 L942.7 1330.4 L946.2 1328.9 L949.6 1327.4 L953.0 1325.9 L956.4 1324.4 L959.8 1322.9 L963.3 1321.3 L966.7 1319.8 L970.1 1318.2 L973.5 1316.6 L976.9 1315.0 L980.4 1313.3 L983.8 1311.7 L987.2 1310.0 L990.6 1308.3 L994.0 1306.6 L997.5 1304.9 L1000.9 1303.2 L1004.3 1301.4 L1007.7 1299.6 L1011.1 1297.9 L1014.6 1296.1 L1018.0 1294.2 L1021.4 1292.4 L1024.8 1290.5 L1028.2 1288.6 L1031.7 1286.7 L1035.1 1284.8 L1038.5 1282.9 L1041.9 1280.9 L1045.4 1279.0 L1048.8 1277.0 L1052.2 1275.0 L1055.6 1272.9 L1059.0 1270.9 L1062.5 1268.8 L1065.9 1266.8 L1069.3 1264.6 L1072.7 1262.5 L1076.1 1260.4 L1079.6 1258.2 L1083.0 1256.0 L1086.4 1253.8 L1089.8 1251.6 L1093.2 1249.4 L1096.7 1247.1 L1100.1 1244.8 L1103.5 1242.5 L1106.9 1240.2 L1110.3 1237.9 L1113.8 1235.5 L1117.2 1233.1 L1120.6 1230.7 L1124.0 1228.3 L1127.4 1225.8 L1130.9 1223.3 L1134.3 1220.9 L1137.7 1218.3 L1141.1 1215.8 L1144.5 1213.3 L1148.0 1210.7 L1151.4 1208.1 L1154.8 1205.5 L1158.2 1202.8 L1161.7 1200.1 L1165.1 1197.5 L1168.5 1194.7 L1171.9 1192.0 L1175.3 1189.3 L1178.8 1186.5 L1182.2 1183.7 L1185.6 1180.9 L1189.0 1178.0 L1192.4 1175.1 L1195.9 1172.3 L1199.3 1169.3 L1202.7 1166.4 L1206.1 1163.4 L1209.5 1160.5 L1213.0 1157.4 L1216.4 1154.4 L1219.8 1151.4 L1223.2 1148.3 L1226.6 1145.2 L1230.1 1142.0 L1233.5 1138.9 L1236.9 1135.7 L1240.3 1132.5 L1243.7 1129.3 L1247.2 1126.0 L1250.6 1122.7 L1254.0 1119.4 L1257.4 1116.1 L1260.8 1112.8 L1264.3 1109.4 L1267.7 1106.0 L1271.1 1102.6 L1274.5 1099.1 L1278.0 1095.6 L1281.4 1092.1 L1284.8 1088.6 L1288.2 1085.0 L1291.6 1081.5 L1295.1 1077.8 L1298.5 1074.2 L1301.9 1070.5 L1305.3 1066.9 L1308.7 1063.1 L1312.2 1059.4 L1315.6 1055.6 L1319.0 1051.8 L1322.4 1048.0 L1325.8 1044.2 L1329.3 1040.3 L1332.7 1036.4 L1336.1 1032.4 L1339.5 1028.5 L1342.9 1024.5 L1346.4 1020.5 L1349.8 1016.4 L1353.2 1012.4 L1356.6 1008.3 L1360.0 1004.1 L1363.5 1000.0 L1366.9 995.8 L1370.3 991.6 L1373.7 987.3 L1377.1 983.1 L1380.6 978.8 L1384.0 974.4 L1387.4 970.1 L1390.8 965.7 L1394.3 961.3 L1397.7 956.8 L1401.1 952.4 L1404.5 947.8 L1407.9 943.3 L1411.4 938.7 L1414.8 934.1 L1418.2 929.5 L1421.6 924.9 L1425.0 920.2 L1428.5 915.5 L1431.9 910.7 L1435.3 905.9 L1438.7 901.1 L1442.1 896.3 L1445.6 891.4 L1449.0 886.5 L1452.4 881.6 L1455.8 876.6 L1459.2 871.6 L1462.7 866.6 L1466.1 861.5 L1469.5 856.4 L1472.9 851.3 L1476.3 846.2 L1479.8 841.0 L1483.2 835.7 L1486.6 830.5 L1490.0 825.2 L1493.4 819.9 L1496.9 814.5 L1500.3 809.2 L1503.7 803.7 L1507.1 798.3 L1510.6 792.8 L1514.0 787.3 L1517.4 781.7 L1520.8 776.2 L1524.2 770.5 L1527.7 764.9 L1531.1 759.2 L1534.5 753.5 L1537.9 747.7 L1541.3 741.9 L1544.8 736.1 L1548.2 730.3 L1551.6 724.4 L1555.0 718.5 L1558.4 712.5 L1561.9 706.5 L1565.3 700.5 L1568.7 694.4 L1572.1 688.3 L1575.5 682.2 L1579.0 676.0 L1582.4 669.8 L1585.8 663.5 L1589.2 657.3 L1592.6 651.0 L1596.1 644.6 L1599.5 638.2 L1602.9 631.8 L1606.3 625.3 L1609.8 618.8 L1613.2 612.3 L1616.6 605.7 L1620.0 599.1 L1623.4 592.5 L1626.9 585.8 L1630.3 579.1 L1633.7 572.3 L1637.1 565.6 L1640.5 558.7 L1644.0 551.9 L1647.4 544.9 L1650.8 538.0 L1654.2 531.0 L1657.6 524.0 L1661.1 516.9 L1664.5 509.9 L1667.9 502.7 L1671.3 495.5 L1674.7 488.3 L1678.2 481.1 L1681.6 473.8 L1685.0 466.5 L1688.4 459.1 L1691.8 451.7 L1695.3 444.2 L1698.7 436.8 L1702.1 429.2 L1705.5 421.7 L1708.9 414.1 L1712.4 406.4 L1715.8 398.7 L1719.2 391.0 L1722.6 383.2 L1726.1 375.4 L1729.5 367.6 L1732.9 359.7 L1736.3 351.8 L1739.7 343.8 L1743.2 335.8 L1746.6 327.7 L1750.0 319.6 L1753.4 311.5 L1756.8 303.3 L1760.3 295.1 L1763.7 286.8 L1767.1 278.5 L1770.5 270.2 L1773.9 261.8 L1777.4 253.4 L1780.8 244.9 L1784.2 236.4 L1787.6 227.8 L1791.0 219.2 L1794.5 210.6 L1797.9 201.9 L1801.3 193.2 L1804.7 184.4 L1808.1 175.6 L1811.6 166.7 L1815.0 157.8 L1818.4 148.9 L1821.8 139.9 L1825.2 130.9 L1828.7 121.8 L1832.1 112.7 L1835.5 103.5 L1838.9 94.3 L1842.4 85.0 L1845.8 75.7 L1849.2 66.4 L1852.6 57.0 L1856.0 47.6 L1859.5 38.1 L1862.9 28.6" stroke="#000" stroke-width="2.9" stroke-dasharray="0 11.72" stroke-dashoffset="4.1"/>
</g>
<rect x="444.7" y="1.3" width="1472.8" height="1473.5" fill="none" stroke="#000" stroke-width="3"/>
<rect x="444.7" y="1.3" width="653.5" height="385.7" fill="#fff" stroke="none"/>
<path d="M444.7 387.0 H1098.2 V1.3" fill="none" stroke="#000" stroke-width="5.8" stroke-linejoin="miter"/>
<path d="M444.7 389.9 V1.3 H1101.1" fill="none" stroke="#000" stroke-width="3" stroke-linejoin="miter"/>
<g fill="none" stroke-linecap="round">
<path d="M489.9 62.3 H575" stroke="#000" stroke-width="2.9" stroke-dasharray="0 11.72"/>
<path d="M490.3 123.3 H581.3" stroke="#000" stroke-width="6.36"/>
<path d="M490.3 184.3 H581.3" stroke="#8b0000" stroke-width="6.06"/>
<path d="M490.3 245.0 H581.3" stroke="#000" stroke-width="6.26" stroke-dasharray="16.4 31.5"/>
<path d="M490.3 305.7 H581.3" stroke="#8b0000" stroke-width="6.06" stroke-dasharray="16.4 31.5"/>
</g>
<g font-size="51.1px">
<text x="626.6" y="81.2">Combined simple</text>
<text x="626.6" y="141.8">Male std</text>
<text x="626.6" y="202.5">Female std</text>
<text x="626.6" y="263.2">Male full</text>
<text x="626.6" y="323.8">Female full</text>
</g>
<g fill="none" stroke-linecap="round" stroke-linejoin="round" stroke-width="8.8">
<path d="M435.2 56.0 L435.2 60.0 L435.2 64.0 L435.2 68.0 L435.2 72.0 L435.2 76.0 L435.2 80.0 L435.1 84.0 L435.1 88.0 L435.1 92.0 L435.1 96.0 L435.1 100.0 L435.1 104.0 L435.1 108.0 L435.1 112.0 L435.1 116.0 L435.1 120.0 L435.1 124.0 L435.1 128.0 L435.1 132.0 L435.1 136.0 L435.1 140.0 L435.1 144.0 L435.0 147.9 L435.0 151.9 L435.0 155.9 L435.0 159.9 L435.0 163.9 L435.0 167.9 L435.0 171.9 L435.0 175.9 L435.0 179.9 L435.0 183.9 L435.0 187.9 L435.0 191.9 L435.0 195.9 L435.0 199.9 L435.0 203.9 L435.0 207.9 L435.0 211.9 L435.0 215.9 L435.0 219.9 L435.0 223.9 L435.0 227.9 L435.0 231.9 L435.0 235.9 L435.0 239.9 L435.1 243.9 L435.1 247.9 L435.1 251.9 L435.1 255.9 L435.1 259.9 L435.1 263.9 L435.1 267.9 L435.1 271.9 L435.1 275.9 L435.1 279.9 L435.1 283.9 L435.2 287.9 L435.2 291.9 L435.2 295.9 L435.2 299.9 L435.2 303.9 L435.2 307.9 L435.2 311.9 L435.3 315.9 L435.3 319.9 L435.3 323.9 L435.3 327.9 L435.3 331.9 L435.4 335.9 L435.4 339.9 L435.4 343.8 L435.4 347.8 L435.4 351.8 L435.5 355.8 L435.5 359.8 L435.5 363.8 L435.5 367.8 L435.5 371.8 L435.6 375.8 L435.6 379.8 L435.6 383.8 L435.6 387.8 L435.6 391.8 L435.6 395.8 L435.7 399.8 L435.7 403.8 L435.7 407.8 L435.7 411.8 L435.7 415.8 L435.7 419.8 L435.7 423.8 L435.8 427.8 L435.8 431.8 L435.8 435.8 L435.8 439.8 L435.8 443.8 L435.8 447.8 L435.8 451.8 L435.8 455.8 L435.8 459.8 L435.8 463.8 L435.8 467.8 L435.8 471.8 L435.7 475.8 L435.7 479.8 L435.7 483.8 L435.7 487.8 L435.7 491.8 L435.7 495.8 L435.6 499.8 L435.6 503.8 L435.6 507.8 L435.6 511.8 L435.5 515.8 L435.5 519.8 L435.5 523.8 L435.4 527.8 L435.4 531.8 L435.3 535.7 L435.3 539.7 L435.2 543.7 L435.2 547.7 L435.1 551.7 L435.1 555.7 L435.0 559.7 L434.9 563.7 L434.9 567.7 L434.8 571.7 L434.7 575.7 L434.7 579.7 L434.6 583.7 L434.5 587.7 L434.5 591.7 L434.4 595.7 L434.3 599.7 L434.3 603.7 L434.2 607.7 L434.2 611.7 L434.2 615.7 L434.2 619.7 L434.1 623.7 L434.1 627.7 L434.1 631.7 L434.1 635.7 L434.1 639.7 L434.2 643.7 L434.2 647.7 L434.2 651.7 L434.2 655.7 L434.2 659.7 L434.3 663.7 L434.3 667.7 L434.3 671.7 L434.4 675.7 L434.4 679.7 L434.5 683.7 L434.5 687.7 L434.5 691.7 L434.6 695.7 L434.6 699.7 L434.6 703.6 L434.7 707.6 L434.7 711.6 L434.7 715.6 L434.7 719.6 L434.8 723.6 L434.8 727.6 L434.8 731.6 L434.8 735.6 L434.8 739.6 L434.8 743.6 L434.8 747.6 L434.9 751.6 L434.9 755.6 L434.9 759.6 L434.9 763.6 L434.9 767.6 L434.9 771.6 L434.9 775.6 L434.9 779.6 L434.9 783.6 L434.9 787.6 L434.9 791.6 L434.9 795.6 L434.9 799.6 L434.9 803.6 L434.8 807.6 L434.8 811.6 L434.8 815.6 L434.8 819.6 L434.8 823.6 L434.8 827.6 L434.8 831.6 L434.8 835.6 L434.8 839.6 L434.8 843.6 L434.7 847.6 L434.7 851.6 L434.7 855.6 L434.7 859.6 L434.7 863.6 L434.7 867.6 L434.7 871.6 L434.7 875.6 L434.7 879.6 L434.6 883.6 L434.6 887.6 L434.6 891.5 L434.6 895.5 L434.6 899.5 L434.6 903.5 L434.6 907.5 L434.6 911.5 L434.6 915.5 L434.6 919.5 L434.6 923.5 L434.5 927.5 L434.5 931.5 L434.5 935.5 L434.5 939.5 L434.5 943.5 L434.5 947.5 L434.5 951.5 L434.5 955.5 L434.5 959.5 L434.5 963.5 L434.5 967.5 L434.5 971.5 L434.5 975.5 L434.4 979.5 L434.4 983.5 L434.4 987.5 L434.4 991.5 L434.4 995.5 L434.4 999.5 L434.4 1003.5 L434.4 1007.5 L434.3 1011.5 L434.3 1015.5 L434.3 1019.5 L434.3 1023.5 L434.3 1027.5 L434.2 1031.5 L434.2 1035.5 L434.2 1039.5 L434.2 1043.5 L434.2 1047.5 L434.1 1051.5 L434.1 1055.5 L434.1 1059.5 L434.0 1063.5 L434.0 1067.5 L434.0 1071.5 L433.9 1075.5 L433.9 1079.4 L433.8 1083.4 L433.8 1087.4 L433.7 1091.4 L433.7 1095.4 L433.6 1099.4 L433.5 1103.4 L433.5 1107.4 L433.4 1111.4 L433.3 1115.4 L433.2 1119.4 L433.2 1123.4 L433.1 1127.4 L433.0 1131.4 L432.8 1135.4 L432.7 1139.4 L432.5 1143.4 L432.3 1147.4 L432.0 1151.4 L431.7 1155.4 L431.2 1159.3 L430.7 1163.3 L430.1 1167.3 L429.3 1171.2 L428.4 1175.1 L427.4 1179.0 L426.1 1182.8 L424.6 1186.5 L423.0 1190.2 L421.0 1193.7 L418.9 1197.1 L416.6 1200.3 L414.1 1203.5 L411.5 1206.6 L408.8 1209.5 L405.9 1212.3 L403.0 1215.0 L399.9 1217.7 L396.8 1220.2 L393.6 1222.6 L390.4 1224.9 L387.0 1227.1 L383.7 1229.3 L380.3 1231.4 L376.9 1233.4 L373.4 1235.4 L369.9 1237.4 L366.4 1239.4 L362.9 1241.4 L359.4 1243.4 L356.1 1245.6 L352.9 1247.9 L349.8 1250.5 L347.0 1253.3 L344.3 1256.3 L341.8 1259.4 L339.3 1262.6 L337.0 1265.8 L334.6 1269.1 L332.3 1272.3 L329.9 1275.6 L327.6 1278.8 L325.1 1281.9 L322.6 1285.0 L320.0 1288.1 L317.3 1291.1 L314.5 1294.0 L311.7 1296.8 L308.7 1299.4 L305.6 1302.0 L302.4 1304.4 L299.2 1306.7 L295.8 1308.9 L292.4 1311.0 L288.9 1313.0 L285.4 1314.9 L281.8 1316.7 L278.2 1318.4 L274.5 1320.0 L270.8 1321.6 L267.1 1323.2 L263.4 1324.7 L259.7 1326.1 L256.0 1327.6 L252.3 1329.1 L248.6 1330.6 L245.0 1332.1 L241.3 1333.7 L237.7 1335.3 L234.0 1336.9 L230.4 1338.6 L226.7 1340.4 L223.1 1342.2 L219.5 1344.3 L216.3 1346.6 L213.5 1349.4 L211.3 1352.7 L209.7 1356.4 L208.8 1360.4 L208.4 1364.4 L208.4 1368.4 L208.8 1372.4 L209.5 1376.4 L210.3 1380.4 L211.6 1384.2 L213.5 1387.7 L216.1 1390.5 L219.4 1392.9 L223.0 1394.9 L226.8 1396.6 L230.6 1398.0 L234.4 1399.3 L238.3 1400.5 L242.1 1401.5 L245.9 1402.5 L249.8 1403.4 L253.6 1404.2 L257.5 1405.1 L261.4 1406.0 L265.3 1406.8 L269.2 1407.6 L273.1 1408.5 L277.1 1409.3 L281.0 1410.0 L284.9 1410.8 L288.9 1411.5 L292.8 1412.3 L296.8 1413.0 L300.7 1413.7 L304.7 1414.3 L308.6 1415.0 L312.6 1415.6 L316.5 1416.2 L320.5 1416.8 L324.4 1417.4 L328.4 1418.0 L332.3 1418.5 L336.3 1419.1 L340.3 1419.6 L344.2 1420.1 L348.2 1420.7 L352.1 1421.2 L356.1 1421.7" stroke="rgb(65,105,225)"/>
<path d="M435.2 77.2 L435.2 81.2 L435.2 85.2 L435.2 89.2 L435.2 93.2 L435.2 97.2 L435.2 101.2 L435.2 105.2 L435.2 109.2 L435.2 113.2 L435.2 117.2 L435.2 121.1 L435.2 125.1 L435.2 129.1 L435.2 133.1 L435.2 137.1 L435.2 141.1 L435.2 145.1 L435.2 149.1 L435.2 153.1 L435.2 157.1 L435.2 161.1 L435.2 165.1 L435.2 169.1 L435.2 173.1 L435.2 177.1 L435.2 181.1 L435.2 185.1 L435.2 189.1 L435.2 193.1 L435.2 197.1 L435.2 201.0 L435.2 205.0 L435.2 209.0 L435.2 213.0 L435.2 217.0 L435.2 221.0 L435.2 225.0 L435.2 229.0 L435.2 233.0 L435.2 237.0 L435.2 241.0 L435.2 245.0 L435.2 249.0 L435.2 253.0 L435.2 257.0 L435.2 261.0 L435.2 265.0 L435.2 269.0 L435.2 273.0 L435.2 277.0 L435.2 280.9 L435.2 284.9 L435.2 288.9 L435.1 292.9 L435.1 296.9 L435.1 300.9 L435.1 304.9 L435.1 308.9 L435.1 312.9 L435.1 316.9 L435.1 320.9 L435.1 324.9 L435.1 328.9 L435.1 332.9 L435.1 336.9 L435.1 340.9 L435.0 344.9 L435.0 348.9 L435.0 352.9 L435.0 356.9 L435.0 360.8 L435.0 364.8 L435.0 368.8 L435.0 372.8 L435.0 376.8 L434.9 380.8 L434.9 384.8 L434.9 388.8 L434.9 392.8 L434.9 396.8 L434.9 400.8 L434.9 404.8 L434.8 408.8 L434.8 412.8 L434.8 416.8 L434.8 420.8 L434.8 424.8 L434.8 428.8 L434.7 432.8 L434.7 436.8 L434.7 440.7 L434.7 444.7 L434.7 448.7 L434.7 452.7 L434.6 456.7 L434.6 460.7 L434.6 464.7 L434.6 468.7 L434.5 472.7 L434.5 476.7 L434.5 480.7 L434.5 484.7 L434.4 488.7 L434.4 492.7 L434.4 496.7 L434.4 500.7 L434.3 504.7 L434.3 508.7 L434.3 512.7 L434.2 516.7 L434.2 520.6 L434.2 524.6 L434.1 528.6 L434.1 532.6 L434.0 536.6 L434.0 540.6 L434.0 544.6 L433.9 548.6 L433.9 552.6 L433.8 556.6 L433.8 560.6 L433.7 564.6 L433.7 568.6 L433.6 572.6 L433.6 576.6 L433.5 580.6 L433.4 584.6 L433.4 588.6 L433.3 592.6 L433.3 596.5 L433.2 600.5 L433.2 604.5 L433.1 608.5 L433.0 612.5 L433.0 616.5 L432.9 620.5 L432.9 624.5 L432.8 628.5 L432.7 632.5 L432.7 636.5 L432.6 640.5 L432.5 644.5 L432.5 648.5 L432.4 652.5 L432.3 656.5 L432.3 660.5 L432.2 664.5 L432.1 668.5 L432.1 672.4 L432.0 676.4 L432.0 680.4 L431.9 684.4 L431.9 688.4 L431.8 692.4 L431.8 696.4 L431.7 700.4 L431.7 704.4 L431.7 708.4 L431.6 712.4 L431.6 716.4 L431.6 720.4 L431.6 724.4 L431.6 728.4 L431.6 732.4 L431.6 736.4 L431.6 740.4 L431.6 744.4 L431.6 748.3 L431.6 752.3 L431.6 756.3 L431.7 760.3 L431.7 764.3 L431.7 768.3 L431.7 772.3 L431.7 776.3 L431.8 780.3 L431.8 784.3 L431.8 788.3 L431.8 792.3 L431.8 796.3 L431.8 800.3 L431.8 804.3 L431.8 808.3 L431.8 812.3 L431.8 816.3 L431.7 820.3 L431.7 824.3 L431.6 828.3 L431.6 832.3 L431.5 836.2 L431.4 840.2 L431.3 844.2 L431.1 848.2 L431.0 852.2 L430.8 856.2 L430.6 860.2 L430.4 864.2 L430.1 868.2 L429.8 872.2 L429.6 876.2 L429.2 880.1 L428.9 884.1 L428.6 888.1 L428.2 892.1 L427.9 896.1 L427.5 900.1 L427.2 904.0 L426.9 908.0 L426.6 912.0 L426.3 916.0 L426.1 920.0 L425.8 924.0 L425.7 927.9 L425.5 931.9 L425.5 935.9 L425.4 939.9 L425.4 943.9 L425.4 947.9 L425.5 951.9 L425.5 955.9 L425.6 959.8 L425.7 963.8 L425.9 967.8 L426.0 971.8 L426.2 975.8 L426.3 979.8 L426.5 983.8 L426.6 987.8 L426.7 991.8 L426.9 995.8 L427.0 999.8 L427.1 1003.9 L427.2 1007.9 L427.2 1011.9 L427.2 1015.9 L427.2 1019.9 L427.2 1023.9 L427.1 1027.9 L427.0 1031.9 L426.8 1035.9 L426.5 1039.9 L426.2 1043.9 L425.9 1047.9 L425.5 1051.8 L425.0 1055.8 L424.4 1059.7 L423.8 1063.7 L423.1 1067.6 L422.4 1071.5 L421.6 1075.5 L420.8 1079.4 L420.0 1083.3 L419.3 1087.2 L418.6 1091.2 L418.1 1095.1 L417.6 1099.1 L417.2 1103.1 L416.8 1107.0 L416.4 1111.0 L416.0 1115.0 L415.6 1119.0 L415.2 1123.0 L414.8 1126.9 L414.3 1130.9 L413.7 1134.8 L413.0 1138.8 L412.2 1142.7 L411.4 1146.6 L410.4 1150.5 L409.4 1154.3 L408.2 1158.2 L407.0 1162.0 L405.6 1165.8 L404.2 1169.5 L402.5 1173.2 L400.8 1176.7 L398.8 1180.2 L396.7 1183.6 L394.4 1186.8 L392.0 1190.1 L389.6 1193.3 L387.2 1196.5 L385.0 1199.8 L382.9 1203.2 L380.9 1206.7 L379.0 1210.2 L377.2 1213.8 L375.6 1217.4 L374.0 1221.1 L372.5 1224.8 L371.1 1228.6 L369.7 1232.4 L368.3 1236.2 L367.0 1239.9 L365.6 1243.7 L364.2 1247.4 L362.6 1251.1 L361.0 1254.7 L359.3 1258.3 L357.4 1261.8 L355.4 1265.2 L353.2 1268.6 L350.9 1271.8 L348.4 1275.0 L345.9 1278.1 L343.2 1281.1 L340.4 1284.0 L337.6 1286.9 L334.7 1289.6 L331.8 1292.4 L328.8 1295.1 L325.9 1297.8 L322.9 1300.5 L320.0 1303.3 L317.2 1306.1 L314.5 1308.9 L311.8 1311.9 L309.2 1314.9 L306.8 1318.1 L304.4 1321.3 L302.0 1324.5 L299.7 1327.8 L297.3 1331.0 L294.8 1334.1 L292.3 1337.2 L289.6 1340.2 L286.9 1343.1 L284.2 1346.0 L281.5 1349.0 L278.9 1352.0 L276.5 1355.2 L274.2 1358.6 L272.3 1362.1 L270.7 1365.8 L269.8 1369.7 L269.5 1373.8 L269.9 1377.9 L271.1 1381.7 L273.1 1385.2 L275.8 1388.1 L278.9 1390.7 L282.3 1392.9 L285.8 1395.0 L289.4 1397.0 L292.9 1398.8 L296.5 1400.5 L300.1 1402.1 L303.8 1403.6 L307.5 1405.0 L311.3 1406.4 L315.1 1407.7 L318.8 1409.0 L322.6 1410.4 L326.4 1411.8 L330.1 1413.2 L333.8 1414.7 L337.5 1416.1 L341.2 1417.6 L344.9 1419.2 L348.6 1420.7" stroke="#8b0000" stroke-dasharray="26.4 44.1"/>
<path d="M498.6 1484.4 L502.6 1485.0 L506.5 1485.7 L510.5 1486.3 L514.4 1487.0 L518.3 1487.7 L522.3 1488.4 L526.2 1489.1 L530.1 1489.9 L534.0 1490.8 L537.9 1491.7 L541.8 1492.6 L545.6 1493.7 L549.4 1494.8 L553.3 1495.9 L557.1 1497.1 L560.8 1498.4 L564.6 1499.8 L568.4 1501.2 L572.1 1502.6 L575.8 1504.1 L579.5 1505.7 L583.2 1507.3 L586.8 1508.9 L590.4 1510.6 L594.0 1512.4 L597.5 1514.2 L601.1 1516.1 L604.5 1518.1 L607.9 1520.2 L611.3 1522.3 L614.6 1524.6 L617.9 1526.9 L621.1 1529.2 L624.3 1531.7 L627.4 1534.1 L630.5 1536.7 L633.6 1539.2 L636.6 1541.8 L639.7 1544.5 L642.6 1547.1 L645.6 1549.8 L648.5 1552.5 L651.5 1555.2 L654.4 1558.0 L657.3 1560.7 L660.1 1563.5 L663.0 1566.2 L665.9 1569.0 L668.8 1571.8 L671.6 1574.6 L674.5 1577.3 L677.4 1580.1 L680.3 1582.8 L683.2 1585.6 L686.1 1588.3 L689.1 1591.0 L692.0 1593.7 L695.0 1596.3 L698.0 1598.9 L701.1 1601.5 L704.2 1604.1 L707.3 1606.6 L710.5 1609.0 L713.7 1611.3 L717.0 1613.6 L720.4 1615.7 L723.8 1617.7 L727.3 1619.7 L730.9 1621.5 L734.5 1623.3 L738.1 1625.0 L741.7 1626.6 L745.4 1628.3 L749.0 1629.9 L752.7 1631.6 L756.3 1633.3 L759.9 1635.0 L763.4 1636.9 L766.9 1638.9 L770.2 1641.0 L773.5 1643.3 L776.7 1645.7 L779.8 1648.2 L782.9 1650.8 L785.9 1653.4 L788.8 1656.1 L791.8 1658.8 L794.7 1661.5 L797.6 1664.3 L800.6 1667.0 L803.5 1669.7 L806.4 1672.4 L809.4 1675.1 L812.4 1677.7 L815.4 1680.3 L818.5 1682.8 L821.7 1685.3 L824.8 1687.8 L828.1 1690.1 L831.3 1692.4 L834.7 1694.6 L838.1 1696.7 L841.6 1698.7 L845.1 1700.5 L848.7 1702.3 L852.3 1703.9 L856.1 1705.4 L859.8 1706.8 L863.6 1707.9 L867.5 1709.0 L871.4 1709.8 L875.4 1710.5 L879.3 1710.9 L883.3 1711.1 L887.4 1711.1 L891.4 1710.9 L895.3 1710.5 L899.3 1709.9 L903.2 1709.0 L907.1 1708.0 L910.9 1706.8 L914.7 1705.5 L918.4 1704.0 L922.1 1702.5 L925.7 1700.8 L929.3 1699.0 L932.8 1697.1 L936.3 1695.1 L939.7 1693.1 L943.1 1690.9 L946.4 1688.8 L949.7 1686.5 L953.0 1684.3 L956.3 1682.0 L959.6 1679.8 L962.9 1677.5 L966.3 1675.3 L969.6 1673.2 L973.0 1671.1 L976.5 1669.0 L980.0 1667.1 L983.5 1665.3 L987.1 1663.5 L990.7 1661.9 L994.4 1660.4 L998.2 1658.9 L1001.9 1657.6 L1005.8 1656.4 L1009.6 1655.2 L1013.4 1654.1 L1017.3 1653.1 L1021.2 1652.1 L1025.0 1651.1 L1028.9 1650.1 L1032.7 1649.1 L1036.6 1648.0 L1040.4 1646.8 L1044.2 1645.5 L1047.9 1644.1 L1051.6 1642.7 L1055.3 1641.1 L1059.0 1639.4 L1062.6 1637.7 L1066.1 1635.8 L1069.6 1633.7 L1072.9 1631.6 L1076.1 1629.2 L1079.3 1626.7 L1082.2 1624.1 L1085.1 1621.3 L1087.8 1618.4 L1090.5 1615.4 L1093.0 1612.3 L1095.5 1609.1 L1097.9 1605.8 L1100.2 1602.6 L1102.4 1599.3 L1104.6 1595.9 L1106.8 1592.6 L1108.9 1589.2 L1111.1 1585.8 L1113.2 1582.5 L1115.3 1579.1 L1117.4 1575.7 L1119.6 1572.3 L1121.8 1569.0 L1124.0 1565.7 L1126.3 1562.4 L1128.6 1559.2 L1131.0 1555.9 L1133.4 1552.8 L1135.9 1549.6 L1138.5 1546.6 L1141.1 1543.5 L1143.8 1540.6 L1146.5 1537.7 L1149.3 1534.8 L1152.2 1532.0 L1155.2 1529.3 L1158.2 1526.7 L1161.3 1524.2 L1164.4 1521.7 L1167.6 1519.3 L1170.9 1517.0 L1174.2 1514.8 L1177.6 1512.7 L1181.1 1510.6 L1184.6 1508.7 L1188.1 1506.8 L1191.7 1505.1 L1195.3 1503.4 L1199.0 1501.9 L1202.7 1500.4 L1206.5 1499.0 L1210.3 1497.7 L1214.1 1496.5 L1217.9 1495.4 L1221.8 1494.4 L1225.7 1493.4 L1229.5 1492.5 L1233.5 1491.6 L1237.4 1490.9 L1241.3 1490.2 L1245.3 1489.6 L1249.2 1489.1 L1253.2 1488.7 L1257.2 1488.3 L1261.2 1488.0 L1265.1 1487.8 L1269.1 1487.7 L1273.1 1487.5 L1277.1 1487.5 L1281.1 1487.5 L1285.1 1487.5 L1289.1 1487.6 L1293.1 1487.6 L1297.1 1487.7 L1301.1 1487.9 L1305.1 1488.0 L1309.1 1488.2 L1313.1 1488.3 L1317.1 1488.5 L1321.1 1488.6 L1325.1 1488.8 L1329.1 1488.9 L1333.1 1489.0 L1337.0 1489.1 L1341.0 1489.1 L1345.0 1489.1 L1349.0 1489.1 L1353.0 1489.0 L1357.0 1488.9 L1361.0 1488.8 L1365.0 1488.6 L1368.9 1488.4 L1372.9 1488.2 L1376.9 1487.9 L1380.9 1487.7 L1384.9 1487.4 L1388.9 1487.1 L1392.9 1486.9 L1396.8 1486.6 L1400.8 1486.3 L1404.8 1486.1 L1408.8 1485.9 L1412.8 1485.7 L1416.8 1485.5 L1420.8 1485.3 L1424.8 1485.2 L1428.8 1485.1 L1432.8 1485.0 L1436.7 1485.0 L1440.7 1484.9 L1444.7 1484.9 L1448.7 1484.9 L1452.7 1485.0 L1456.7 1485.0 L1460.7 1485.1 L1464.7 1485.1 L1468.7 1485.2 L1472.7 1485.3 L1476.7 1485.4 L1480.7 1485.5 L1484.7 1485.6 L1488.7 1485.7 L1492.7 1485.8 L1496.6 1485.9 L1500.6 1486.0 L1504.6 1486.1 L1508.6 1486.2 L1512.6 1486.2 L1516.6 1486.3 L1520.6 1486.4 L1524.6 1486.4 L1528.6 1486.5 L1532.6 1486.5 L1536.6 1486.5 L1540.6 1486.6 L1544.6 1486.6 L1548.6 1486.6 L1552.6 1486.6 L1556.6 1486.6 L1560.5 1486.5 L1564.5 1486.5 L1568.5 1486.5 L1572.5 1486.4 L1576.5 1486.4 L1580.5 1486.4 L1584.5 1486.3 L1588.5 1486.3 L1592.5 1486.2 L1596.5 1486.1 L1600.5 1486.1 L1604.5 1486.0 L1608.5 1486.0 L1612.4 1485.9 L1616.4 1485.8 L1620.4 1485.7 L1624.4 1485.7 L1628.4 1485.6 L1632.4 1485.5 L1636.4 1485.5 L1640.4 1485.4 L1644.4 1485.3 L1648.4 1485.3 L1652.4 1485.2 L1656.4 1485.1 L1660.4 1485.1 L1664.4 1485.0 L1668.3 1484.9 L1672.3 1484.9 L1676.3 1484.8 L1680.3 1484.8 L1684.3 1484.7 L1688.3 1484.6 L1692.3 1484.6 L1696.3 1484.5 L1700.3 1484.5 L1704.3 1484.4 L1708.3 1484.4 L1712.3 1484.3 L1716.3 1484.3 L1720.3 1484.3 L1724.2 1484.2 L1728.2 1484.2 L1732.2 1484.1 L1736.2 1484.1 L1740.2 1484.1 L1744.2 1484.1 L1748.2 1484.0 L1752.2 1484.0 L1756.2 1484.0 L1760.2 1484.0 L1764.2 1483.9 L1768.2 1483.9 L1772.2 1483.9 L1776.2 1483.9 L1780.1 1483.9 L1784.1 1483.9 L1788.1 1483.9 L1792.1 1483.9 L1796.1 1483.9 L1800.1 1483.9 L1804.1 1483.9 L1808.1 1483.9 L1812.1 1483.9 L1816.1 1483.9 L1820.1 1483.9 L1824.1 1483.9 L1828.1 1483.9 L1832.1 1483.9 L1836.0 1483.9 L1840.0 1483.9 L1844.0 1483.9 L1848.0 1484.0 L1852.0 1484.0 L1856.0 1484.0 L1860.0 1484.0 L1864.0 1484.0" stroke="rgb(65,105,225)"/>
<path d="M498.6 1488.3 L502.6 1488.7 L506.6 1489.1 L510.5 1489.6 L514.5 1490.0 L518.5 1490.5 L522.4 1491.1 L526.4 1491.7 L530.3 1492.3 L534.2 1493.1 L538.1 1493.9 L542.0 1494.7 L545.9 1495.6 L549.8 1496.6 L553.7 1497.6 L557.5 1498.6 L561.4 1499.7 L565.2 1500.9 L569.0 1502.1 L572.8 1503.4 L576.6 1504.7 L580.3 1506.1 L584.0 1507.6 L587.7 1509.1 L591.4 1510.8 L594.9 1512.5 L598.5 1514.3 L602.0 1516.2 L605.4 1518.2 L608.9 1520.2 L612.3 1522.3 L615.7 1524.3 L619.1 1526.4 L622.5 1528.5 L626.0 1530.6 L629.4 1532.7 L632.9 1534.7 L636.3 1536.7 L639.8 1538.7 L643.3 1540.7 L646.6 1542.8 L650.0 1545.0 L653.2 1547.3 L656.4 1549.7 L659.5 1552.2 L662.5 1554.8 L665.4 1557.5 L668.3 1560.3 L671.2 1563.0 L674.1 1565.8 L677.1 1568.5 L680.0 1571.2 L683.1 1573.8 L686.2 1576.3 L689.3 1578.7 L692.6 1581.0 L695.9 1583.2 L699.3 1585.3 L702.7 1587.4 L706.2 1589.5 L709.6 1591.5 L713.1 1593.5 L716.6 1595.5 L720.0 1597.5 L723.5 1599.4 L727.0 1601.4 L730.5 1603.3 L734.0 1605.1 L737.6 1607.0 L741.2 1608.7 L744.7 1610.5 L748.4 1612.1 L752.0 1613.8 L755.7 1615.3 L759.4 1616.8 L763.2 1618.2 L766.9 1619.5 L770.7 1620.8 L774.5 1621.9 L778.4 1623.0 L782.2 1624.0 L786.1 1624.9 L790.0 1625.7 L794.0 1626.5 L797.9 1627.3 L801.8 1628.0 L805.8 1628.7 L809.7 1629.3 L813.6 1630.0 L817.6 1630.6 L821.5 1631.3 L825.5 1631.9 L829.4 1632.5 L833.4 1633.0 L837.3 1633.5 L841.3 1634.0 L845.3 1634.4 L849.3 1634.7 L853.2 1635.0 L857.2 1635.2 L861.2 1635.4 L865.2 1635.6 L869.2 1635.9 L873.2 1636.1 L877.2 1636.4 L881.1 1636.8 L885.1 1637.2 L889.1 1637.7 L893.0 1638.2 L897.0 1638.8 L900.9 1639.5 L904.8 1640.1 L908.8 1640.8 L912.7 1641.4 L916.7 1642.0 L920.6 1642.7 L924.6 1643.2 L928.5 1643.8 L932.5 1644.3 L936.4 1644.8 L940.4 1645.3 L944.4 1645.7 L948.3 1646.1 L952.3 1646.5 L956.3 1646.9 L960.3 1647.2 L964.3 1647.4 L968.3 1647.7 L972.2 1647.8 L976.2 1647.9 L980.2 1647.9 L984.2 1647.9 L988.2 1647.8 L992.2 1647.5 L996.2 1647.2 L1000.2 1646.9 L1004.1 1646.4 L1008.1 1645.9 L1012.1 1645.3 L1016.0 1644.6 L1019.9 1643.9 L1023.9 1643.1 L1027.8 1642.2 L1031.7 1641.3 L1035.5 1640.3 L1039.4 1639.2 L1043.2 1638.1 L1047.0 1636.9 L1050.8 1635.6 L1054.6 1634.3 L1058.3 1632.9 L1062.0 1631.5 L1065.7 1630.0 L1069.4 1628.5 L1073.1 1627.0 L1076.8 1625.4 L1080.4 1623.8 L1084.1 1622.2 L1087.8 1620.6 L1091.4 1619.0 L1095.1 1617.4 L1098.8 1615.8 L1102.4 1614.2 L1106.1 1612.5 L1109.7 1610.8 L1113.2 1608.9 L1116.7 1607.0 L1120.1 1605.0 L1123.4 1602.8 L1126.7 1600.6 L1130.0 1598.3 L1133.2 1595.9 L1136.4 1593.5 L1139.6 1591.1 L1142.8 1588.7 L1146.0 1586.2 L1149.2 1583.8 L1152.4 1581.5 L1155.7 1579.1 L1158.9 1576.8 L1162.2 1574.5 L1165.4 1572.2 L1168.6 1569.8 L1171.7 1567.3 L1174.8 1564.8 L1177.8 1562.2 L1180.8 1559.5 L1183.8 1556.9 L1186.8 1554.2 L1189.8 1551.6 L1192.9 1549.1 L1196.1 1546.7 L1199.4 1544.5 L1202.8 1542.3 L1206.2 1540.3 L1209.7 1538.4 L1213.3 1536.6 L1216.9 1534.9 L1220.6 1533.4 L1224.4 1531.9 L1228.1 1530.5 L1231.9 1529.2 L1235.7 1528.0 L1239.5 1526.8 L1243.4 1525.7 L1247.2 1524.7 L1251.1 1523.8 L1255.0 1523.0 L1258.9 1522.3 L1262.9 1521.6 L1266.8 1521.0 L1270.8 1520.5 L1274.8 1520.0 L1278.7 1519.6 L1282.7 1519.1 L1286.7 1518.7 L1290.6 1518.3 L1294.6 1517.9 L1298.6 1517.6 L1302.6 1517.3 L1306.5 1517.0 L1310.5 1516.8 L1314.5 1516.6 L1318.5 1516.4 L1322.5 1516.3 L1326.5 1516.1 L1330.5 1516.0 L1334.5 1515.8 L1338.5 1515.6 L1342.4 1515.4 L1346.4 1515.2 L1350.4 1514.9 L1354.4 1514.6 L1358.4 1514.3 L1362.4 1514.0 L1366.3 1513.7 L1370.3 1513.5 L1374.3 1513.2 L1378.3 1513.1 L1382.3 1512.9 L1386.3 1512.8 L1390.3 1512.7 L1394.3 1512.6 L1398.2 1512.5 L1402.2 1512.5 L1406.2 1512.4 L1410.2 1512.3 L1414.2 1512.1 L1418.2 1512.0 L1422.2 1511.8 L1426.2 1511.5 L1430.2 1511.3 L1434.1 1511.1 L1438.1 1510.8 L1442.1 1510.6 L1446.1 1510.4 L1450.1 1510.2 L1454.1 1510.1 L1458.1 1509.9 L1462.1 1509.7 L1466.1 1509.6 L1470.0 1509.4 L1474.0 1509.1 L1478.0 1508.8 L1482.0 1508.5 L1485.9 1508.1 L1489.9 1507.6 L1493.9 1507.1 L1497.8 1506.5 L1501.8 1506.0 L1505.7 1505.4 L1509.7 1504.8 L1513.6 1504.3 L1517.6 1503.8 L1521.6 1503.4 L1525.5 1503.0 L1529.5 1502.6 L1533.5 1502.2 L1537.5 1501.9 L1541.4 1501.6 L1545.4 1501.2 L1549.4 1500.9 L1553.4 1500.5 L1557.3 1500.1 L1561.3 1499.6 L1565.3 1499.2 L1569.2 1498.7 L1573.2 1498.2 L1577.2 1497.6 L1581.1 1497.1 L1585.1 1496.6 L1589.0 1496.1 L1593.0 1495.6 L1596.9 1495.1 L1600.9 1494.6 L1604.9 1494.1 L1608.8 1493.6 L1612.8 1493.1 L1616.8 1492.7 L1620.7 1492.2 L1624.7 1491.7 L1628.6 1491.2 L1632.6 1490.7 L1636.6 1490.2 L1640.5 1489.7 L1644.5 1489.3 L1648.5 1488.9 L1652.4 1488.5 L1656.4 1488.1 L1660.4 1487.8 L1664.4 1487.6 L1668.4 1487.3 L1672.4 1487.1 L1676.3 1487.0 L1680.3 1486.8 L1684.3 1486.7 L1688.3 1486.6 L1692.3 1486.5 L1696.3 1486.4 L1700.3 1486.2 L1704.3 1486.1 L1708.3 1486.0 L1712.3 1485.9 L1716.3 1485.8 L1720.2 1485.7 L1724.2 1485.6 L1728.2 1485.5 L1732.2 1485.4 L1736.2 1485.3 L1740.2 1485.2 L1744.2 1485.1 L1748.2 1485.0 L1752.2 1484.9 L1756.2 1484.9 L1760.2 1484.8 L1764.2 1484.8 L1768.1 1484.7 L1772.1 1484.7 L1776.1 1484.7 L1780.1 1484.7 L1784.1 1484.7 L1788.1 1484.7 L1792.1 1484.7 L1796.1 1484.7 L1800.1 1484.7 L1804.1 1484.7 L1808.1 1484.7 L1812.1 1484.8 L1816.0 1484.8 L1820.0 1484.8 L1824.0 1484.8 L1828.0 1484.8 L1832.0 1484.8 L1836.0 1484.8 L1840.0 1484.8 L1844.0 1484.8 L1848.0 1484.8 L1852.0 1484.8 L1856.0 1484.8 L1860.0 1484.8 L1864.0 1484.8" stroke="#8b0000" stroke-dasharray="26.4 43.55"/>
</g>
<g font-size="38.6px" text-anchor="middle">
<text x="544.6" y="1805.3">10</text>
<text x="870.1" y="1805.3">20</text>
<text x="1195.6" y="1805.3">30</text>
<text x="1521.1" y="1805.3">40</text>
<text x="1846.6" y="1805.3">50</text>
<text transform="translate(143.3 1424.8) rotate(-90)">0</text>
<text transform="translate(143.3 992.5) rotate(-90)">500</text>
<text transform="translate(143.3 560.3) rotate(-90)">1000</text>
<text transform="translate(143.3 128.1) rotate(-90)">1500</text>
</g>
<g font-size="66.2px" text-anchor="middle">
<text x="1181.3" y="1897.8">Fork length (cm)</text>
<text transform="translate(49.4 738.6) rotate(-90)">Body weight (g)</text>
</g>
<circle cx="95.2" cy="1639.3" r="17.6" fill="rgb(65,105,225)" fill-opacity="0.8"/>
<circle cx="95.2" cy="1718.9" r="17.5" fill="none" stroke="rgb(139,0,0)" stroke-opacity="0.88" stroke-width="2.9"/>
<g font-size="66.3px">
<text x="154.3" y="1663.2">male</text>
<text x="155.3" y="1742.9">female</text>
</g>
</svg></body></html>
